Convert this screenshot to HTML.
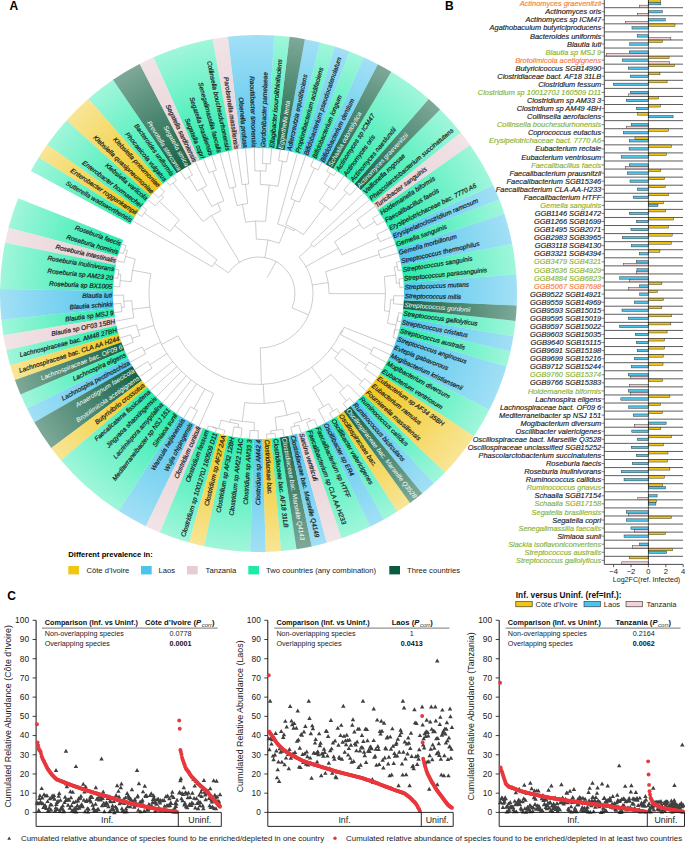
<!DOCTYPE html><html><head><meta charset="utf-8"><style>html,body{margin:0;padding:0;background:#fff;width:685px;height:843px;overflow:hidden}svg{display:block}text{font-family:"Liberation Sans",sans-serif}.it{font-style:italic}.b{font-weight:bold}</style></head><body>
<svg width="685" height="843" viewBox="0 0 685 843">
<rect width="685" height="843" fill="#fff"/>
<defs>
<radialGradient id="gY" gradientUnits="userSpaceOnUse" cx="258.5" cy="293.5" r="258.5">
<stop offset="0.56" stop-color="#f0c514" stop-opacity="0.96"/>
<stop offset="1" stop-color="#f0c514" stop-opacity="0.45"/>
</radialGradient>
<radialGradient id="gB" gradientUnits="userSpaceOnUse" cx="258.5" cy="293.5" r="258.5">
<stop offset="0.56" stop-color="#4cc3ec" stop-opacity="0.96"/>
<stop offset="1" stop-color="#4cc3ec" stop-opacity="0.52"/>
</radialGradient>
<radialGradient id="gP" gradientUnits="userSpaceOnUse" cx="258.5" cy="293.5" r="258.5">
<stop offset="0.56" stop-color="#e6cdd2" stop-opacity="0.96"/>
<stop offset="1" stop-color="#e6cdd2" stop-opacity="0.55"/>
</radialGradient>
<radialGradient id="gG" gradientUnits="userSpaceOnUse" cx="258.5" cy="293.5" r="258.5">
<stop offset="0.56" stop-color="#1eeaa8" stop-opacity="0.96"/>
<stop offset="1" stop-color="#1eeaa8" stop-opacity="0.42"/>
</radialGradient>
<radialGradient id="gD" gradientUnits="userSpaceOnUse" cx="258.5" cy="293.5" r="258.5">
<stop offset="0.56" stop-color="#0b5c3e" stop-opacity="0.96"/>
<stop offset="1" stop-color="#0b5c3e" stop-opacity="0.53"/>
</radialGradient>
</defs>
<path d="M18.15 198.34A258.5 258.5 0 0 0 8.51 227.73L117.79 256.48A145.5 145.5 0 0 1 123.22 239.94Z" fill="url(#gG)"/>
<path d="M8.51 227.73A258.5 258.5 0 0 0 5.02 242.8L115.83 264.97A145.5 145.5 0 0 1 117.79 256.48Z" fill="url(#gP)"/>
<path d="M5.02 242.8A258.5 258.5 0 0 0 0.04 288.9L113.02 290.91A145.5 145.5 0 0 1 115.83 264.97Z" fill="url(#gG)"/>
<path d="M0.04 288.9A258.5 258.5 0 0 0 1.34 319.81L113.76 308.31A145.5 145.5 0 0 1 113.02 290.91Z" fill="url(#gB)"/>
<path d="M1.34 319.81A258.5 258.5 0 0 0 3.38 335.14L114.9 316.94A145.5 145.5 0 0 1 113.76 308.31Z" fill="url(#gG)"/>
<path d="M3.38 335.14A258.5 258.5 0 0 0 6.33 350.33L116.56 325.49A145.5 145.5 0 0 1 114.9 316.94Z" fill="url(#gP)"/>
<path d="M6.33 350.33A258.5 258.5 0 0 0 10.18 365.32L118.73 333.93A145.5 145.5 0 0 1 116.56 325.49Z" fill="url(#gG)"/>
<path d="M10.18 365.32A258.5 258.5 0 0 0 14.92 380.05L121.4 342.22A145.5 145.5 0 0 1 118.73 333.93Z" fill="url(#gY)"/>
<path d="M14.92 380.05A258.5 258.5 0 0 0 20.53 394.47L124.56 350.33A145.5 145.5 0 0 1 121.4 342.22Z" fill="url(#gD)"/>
<path d="M20.53 394.47A258.5 258.5 0 0 0 27 408.52L128.2 358.24A145.5 145.5 0 0 1 124.56 350.33Z" fill="url(#gG)"/>
<path d="M27 408.52A258.5 258.5 0 0 0 34.3 422.17L132.31 365.92A145.5 145.5 0 0 1 128.2 358.24Z" fill="url(#gB)"/>
<path d="M34.3 422.17A258.5 258.5 0 0 0 51.27 448.03L141.86 380.48A145.5 145.5 0 0 1 132.31 365.92Z" fill="url(#gD)"/>
<path d="M51.27 448.03A258.5 258.5 0 0 0 60.89 460.15L147.27 387.3A145.5 145.5 0 0 1 141.86 380.48Z" fill="url(#gY)"/>
<path d="M60.89 460.15A258.5 258.5 0 0 0 118.82 511.01L179.88 415.93A145.5 145.5 0 0 1 147.27 387.3Z" fill="url(#gG)"/>
<path d="M118.82 511.01A258.5 258.5 0 0 0 145.8 526.14L195.07 424.44A145.5 145.5 0 0 1 179.88 415.93Z" fill="url(#gB)"/>
<path d="M145.8 526.14A258.5 258.5 0 0 0 159.92 532.47L203.01 428A145.5 145.5 0 0 1 195.07 424.44Z" fill="url(#gP)"/>
<path d="M159.92 532.47A258.5 258.5 0 0 0 189.17 542.53L219.48 433.67A145.5 145.5 0 0 1 203.01 428Z" fill="url(#gG)"/>
<path d="M189.17 542.53A258.5 258.5 0 0 0 204.19 546.23L227.93 435.75A145.5 145.5 0 0 1 219.48 433.67Z" fill="url(#gY)"/>
<path d="M204.19 546.23A258.5 258.5 0 0 0 250.21 551.87L253.84 438.93A145.5 145.5 0 0 1 227.93 435.75Z" fill="url(#gG)"/>
<path d="M250.21 551.87A258.5 258.5 0 0 0 265.69 551.9L262.55 438.94A145.5 145.5 0 0 1 253.84 438.93Z" fill="url(#gB)"/>
<path d="M265.69 551.9A258.5 258.5 0 0 0 281.13 551.01L271.24 438.44A145.5 145.5 0 0 1 262.55 438.94Z" fill="url(#gY)"/>
<path d="M281.13 551.01A258.5 258.5 0 0 0 296.5 549.19L279.89 437.42A145.5 145.5 0 0 1 271.24 438.44Z" fill="url(#gG)"/>
<path d="M296.5 549.19A258.5 258.5 0 0 0 311.73 546.46L288.46 435.88A145.5 145.5 0 0 1 279.89 437.42Z" fill="url(#gD)"/>
<path d="M311.73 546.46A258.5 258.5 0 0 0 326.77 542.82L296.93 433.83A145.5 145.5 0 0 1 288.46 435.88Z" fill="url(#gB)"/>
<path d="M326.77 542.82A258.5 258.5 0 0 0 341.57 538.29L305.25 431.28A145.5 145.5 0 0 1 296.93 433.83Z" fill="url(#gP)"/>
<path d="M341.57 538.29A258.5 258.5 0 0 0 370.21 526.62L321.38 424.71A145.5 145.5 0 0 1 305.25 431.28Z" fill="url(#gG)"/>
<path d="M370.21 526.62A258.5 258.5 0 0 0 383.96 519.51L329.12 420.72A145.5 145.5 0 0 1 321.38 424.71Z" fill="url(#gB)"/>
<path d="M383.96 519.51A258.5 258.5 0 0 0 397.26 511.6L336.6 416.26A145.5 145.5 0 0 1 329.12 420.72Z" fill="url(#gG)"/>
<path d="M397.26 511.6A258.5 258.5 0 0 0 410.06 502.91L343.81 411.37A145.5 145.5 0 0 1 336.6 416.26Z" fill="url(#gY)"/>
<path d="M410.06 502.91A258.5 258.5 0 0 0 422.31 493.47L350.7 406.05A145.5 145.5 0 0 1 343.81 411.37Z" fill="url(#gD)"/>
<path d="M422.31 493.47A258.5 258.5 0 0 0 433.98 483.31L357.27 400.34A145.5 145.5 0 0 1 350.7 406.05Z" fill="url(#gB)"/>
<path d="M433.98 483.31A258.5 258.5 0 0 0 445.03 472.47L363.49 394.24A145.5 145.5 0 0 1 357.27 400.34Z" fill="url(#gG)"/>
<path d="M445.03 472.47A258.5 258.5 0 0 0 474 436.27L379.79 373.86A145.5 145.5 0 0 1 363.49 394.24Z" fill="url(#gY)"/>
<path d="M474 436.27A258.5 258.5 0 0 0 489.51 409.51L388.53 358.8A145.5 145.5 0 0 1 379.79 373.86Z" fill="url(#gG)"/>
<path d="M489.51 409.51A258.5 258.5 0 0 0 506.51 366.38L398.1 334.52A145.5 145.5 0 0 1 388.53 358.8Z" fill="url(#gB)"/>
<path d="M506.51 366.38A258.5 258.5 0 0 0 510.43 351.41L400.3 326.09A145.5 145.5 0 0 1 398.1 334.52Z" fill="url(#gG)"/>
<path d="M510.43 351.41A258.5 258.5 0 0 0 513.44 336.23L402 317.55A145.5 145.5 0 0 1 400.3 326.09Z" fill="url(#gB)"/>
<path d="M513.44 336.23A258.5 258.5 0 0 0 515.54 320.9L403.18 308.92A145.5 145.5 0 0 1 402 317.55Z" fill="url(#gG)"/>
<path d="M515.54 320.9A258.5 258.5 0 0 0 516.72 305.47L403.84 300.24A145.5 145.5 0 0 1 403.18 308.92Z" fill="url(#gD)"/>
<path d="M516.72 305.47A258.5 258.5 0 0 0 516.3 274.54L403.61 282.83A145.5 145.5 0 0 1 403.84 300.24Z" fill="url(#gB)"/>
<path d="M516.3 274.54A258.5 258.5 0 0 0 512.19 243.88L401.29 265.57A145.5 145.5 0 0 1 403.61 282.83Z" fill="url(#gG)"/>
<path d="M512.19 243.88A258.5 258.5 0 0 0 504.45 213.94L396.94 248.72A145.5 145.5 0 0 1 401.29 265.57Z" fill="url(#gB)"/>
<path d="M504.45 213.94A258.5 258.5 0 0 0 499.25 199.36L394.01 240.51A145.5 145.5 0 0 1 396.94 248.72Z" fill="url(#gG)"/>
<path d="M499.25 199.36A258.5 258.5 0 0 0 493.19 185.13L390.6 232.5A145.5 145.5 0 0 1 394.01 240.51Z" fill="url(#gB)"/>
<path d="M493.19 185.13A258.5 258.5 0 0 0 470.05 144.95L377.57 209.89A145.5 145.5 0 0 1 390.6 232.5Z" fill="url(#gG)"/>
<path d="M470.05 144.95A258.5 258.5 0 0 0 460.79 132.56L372.36 202.91A145.5 145.5 0 0 1 377.57 209.89Z" fill="url(#gP)"/>
<path d="M460.79 132.56A258.5 258.5 0 0 0 440.11 109.55L360.72 189.96A145.5 145.5 0 0 1 372.36 202.91Z" fill="url(#gG)"/>
<path d="M440.11 109.55A258.5 258.5 0 0 0 428.78 99.01L354.34 184.03A145.5 145.5 0 0 1 360.72 189.96Z" fill="url(#gD)"/>
<path d="M428.78 99.01A258.5 258.5 0 0 0 391.3 71.72L333.25 168.67A145.5 145.5 0 0 1 354.34 184.03Z" fill="url(#gG)"/>
<path d="M391.3 71.72A258.5 258.5 0 0 0 377.79 64.17L325.65 164.42A145.5 145.5 0 0 1 333.25 168.67Z" fill="url(#gD)"/>
<path d="M377.79 64.17A258.5 258.5 0 0 0 363.86 57.44L317.8 160.63A145.5 145.5 0 0 1 325.65 164.42Z" fill="url(#gB)"/>
<path d="M363.86 57.44A258.5 258.5 0 0 0 349.55 51.56L309.75 157.32A145.5 145.5 0 0 1 317.8 160.63Z" fill="url(#gG)"/>
<path d="M349.55 51.56A258.5 258.5 0 0 0 334.91 46.55L301.51 154.5A145.5 145.5 0 0 1 309.75 157.32Z" fill="url(#gB)"/>
<path d="M334.91 46.55A258.5 258.5 0 0 0 319.99 42.42L293.11 152.18A145.5 145.5 0 0 1 301.51 154.5Z" fill="url(#gG)"/>
<path d="M319.99 42.42A258.5 258.5 0 0 0 304.86 39.19L284.6 150.36A145.5 145.5 0 0 1 293.11 152.18Z" fill="url(#gB)"/>
<path d="M304.86 39.19A258.5 258.5 0 0 0 289.56 36.87L275.98 149.05A145.5 145.5 0 0 1 284.6 150.36Z" fill="url(#gD)"/>
<path d="M289.56 36.87A258.5 258.5 0 0 0 274.15 35.47L267.31 148.27A145.5 145.5 0 0 1 275.98 149.05Z" fill="url(#gG)"/>
<path d="M274.15 35.47A258.5 258.5 0 0 0 227.81 36.83L241.23 149.03A145.5 145.5 0 0 1 267.31 148.27Z" fill="url(#gB)"/>
<path d="M227.81 36.83A258.5 258.5 0 0 0 212.51 39.12L232.61 150.32A145.5 145.5 0 0 1 241.23 149.03Z" fill="url(#gP)"/>
<path d="M212.51 39.12A258.5 258.5 0 0 0 153.49 57.29L199.39 160.55A145.5 145.5 0 0 1 232.61 150.32Z" fill="url(#gG)"/>
<path d="M153.49 57.29A258.5 258.5 0 0 0 139.54 64L191.54 164.32A145.5 145.5 0 0 1 199.39 160.55Z" fill="url(#gP)"/>
<path d="M139.54 64A258.5 258.5 0 0 0 112.98 79.85L176.59 173.24A145.5 145.5 0 0 1 191.54 164.32Z" fill="url(#gD)"/>
<path d="M112.98 79.85A258.5 258.5 0 0 0 88.5 98.76L162.81 183.89A145.5 145.5 0 0 1 176.59 173.24Z" fill="url(#gG)"/>
<path d="M88.5 98.76A258.5 258.5 0 0 0 66.46 120.46L150.41 196.1A145.5 145.5 0 0 1 162.81 183.89Z" fill="url(#gY)"/>
<path d="M66.46 120.46A258.5 258.5 0 0 0 47.16 144.64L139.55 209.71A145.5 145.5 0 0 1 150.41 196.1Z" fill="url(#gG)"/>
<path d="M47.16 144.64A258.5 258.5 0 0 0 38.64 157.55L134.75 216.98A145.5 145.5 0 0 1 139.55 209.71Z" fill="url(#gY)"/>
<path d="M38.64 157.55A258.5 258.5 0 0 0 30.9 170.95L130.39 224.52A145.5 145.5 0 0 1 134.75 216.98Z" fill="url(#gG)"/>
<g class="it" font-size="6.5" stroke-width="0.2">
<text x="120.92" y="243.74" fill="#1a1a1a" stroke="#1a1a1a" text-anchor="end" transform="rotate(379.88 120.92 243.74)" dy="2.3">Roseburia faecis</text>
<text x="118.19" y="252.06" fill="#1a1a1a" stroke="#1a1a1a" text-anchor="end" transform="rotate(376.45 118.19 252.06)" dy="2.3">Roseburia hominis</text>
<text x="115.96" y="260.53" fill="#1a1a1a" stroke="#1a1a1a" text-anchor="end" transform="rotate(373.02 115.96 260.53)" dy="2.3">Roseburia intestinalis</text>
<text x="114.25" y="269.12" fill="#1a1a1a" stroke="#1a1a1a" text-anchor="end" transform="rotate(369.59 114.25 269.12)" dy="2.3">Roseburia inulinivorans</text>
<text x="113.05" y="277.79" fill="#1a1a1a" stroke="#1a1a1a" text-anchor="end" transform="rotate(366.16 113.05 277.79)" dy="2.3">Roseburia sp AM23 20</text>
<text x="112.37" y="286.52" fill="#1a1a1a" stroke="#1a1a1a" text-anchor="end" transform="rotate(362.73 112.37 286.52)" dy="2.3">Roseburia sp BX1005</text>
<text x="112.21" y="295.28" fill="#1a1a1a" stroke="#1a1a1a" text-anchor="end" transform="rotate(359.3 112.21 295.28)" dy="2.3">Blautia luti</text>
<text x="112.58" y="304.03" fill="#1a1a1a" stroke="#1a1a1a" text-anchor="end" transform="rotate(355.87 112.58 304.03)" dy="2.3">Blautia schinkii</text>
<text x="113.47" y="312.74" fill="#1a1a1a" stroke="#1a1a1a" text-anchor="end" transform="rotate(352.44 113.47 312.74)" dy="2.3">Blautia sp MSJ 9</text>
<text x="114.88" y="321.38" fill="#1a1a1a" stroke="#1a1a1a" text-anchor="end" transform="rotate(349.01 114.88 321.38)" dy="2.3">Blautia sp OF03 15BH</text>
<text x="116.81" y="329.92" fill="#1a1a1a" stroke="#1a1a1a" text-anchor="end" transform="rotate(345.58 116.81 329.92)" dy="2.3">Lachnospiraceae bac. AM48 27BH</text>
<text x="119.24" y="338.34" fill="#1a1a1a" stroke="#1a1a1a" text-anchor="end" transform="rotate(342.15 119.24 338.34)" dy="2.3">Lachnospiraceae bac. CLA AA H244</text>
<text x="122.17" y="346.59" fill="#fff" stroke="none" text-anchor="end" transform="rotate(338.72 122.17 346.59)" dy="2.3">Lachnospiraceae bac. OF09 6</text>
<text x="125.59" y="354.65" fill="#1a1a1a" stroke="#1a1a1a" text-anchor="end" transform="rotate(335.29 125.59 354.65)" dy="2.3">Lachnospira eligens</text>
<text x="129.49" y="362.49" fill="#1a1a1a" stroke="#1a1a1a" text-anchor="end" transform="rotate(331.86 129.49 362.49)" dy="2.3">Lachnospira pectinoschiza</text>
<text x="133.85" y="370.09" fill="#fff" stroke="none" text-anchor="end" transform="rotate(328.43 133.85 370.09)" dy="2.3">Anaerotignum faecicola</text>
<text x="138.65" y="377.41" fill="#fff" stroke="none" text-anchor="end" transform="rotate(325 138.65 377.41)" dy="2.3">Brotolimicola acetigignens</text>
<text x="143.89" y="384.43" fill="#1a1a1a" stroke="#1a1a1a" text-anchor="end" transform="rotate(321.57 143.89 384.43)" dy="2.3">Butyrivibrio crossotus</text>
<text x="149.53" y="391.12" fill="#1a1a1a" stroke="#1a1a1a" text-anchor="end" transform="rotate(318.14 149.53 391.12)" dy="2.3">Faecalicatena fissicatena</text>
<text x="155.57" y="397.47" fill="#1a1a1a" stroke="#1a1a1a" text-anchor="end" transform="rotate(314.71 155.57 397.47)" dy="2.3">Jingyaoa shaoxingensis</text>
<text x="161.97" y="403.44" fill="#1a1a1a" stroke="#1a1a1a" text-anchor="end" transform="rotate(311.28 161.97 403.44)" dy="2.3">Lacrimispora amygdalina</text>
<text x="168.72" y="409.02" fill="#1a1a1a" stroke="#1a1a1a" text-anchor="end" transform="rotate(307.85 168.72 409.02)" dy="2.3">Mediterraneibacter sp NSJ 151</text>
<text x="175.8" y="414.18" fill="#1a1a1a" stroke="#1a1a1a" text-anchor="end" transform="rotate(304.42 175.8 414.18)" dy="2.3">Simiaoa sunii</text>
<text x="183.17" y="418.91" fill="#1a1a1a" stroke="#1a1a1a" text-anchor="end" transform="rotate(300.99 183.17 418.91)" dy="2.3">Wansuia hejianensis</text>
<text x="190.8" y="423.2" fill="#1a1a1a" stroke="#1a1a1a" text-anchor="end" transform="rotate(297.56 190.8 423.2)" dy="2.3">Wujia chipingensis</text>
<text x="198.69" y="427.01" fill="#1a1a1a" stroke="#1a1a1a" text-anchor="end" transform="rotate(294.13 198.69 427.01)" dy="2.3">Clostridium cuniculi</text>
<text x="206.78" y="430.35" fill="#1a1a1a" stroke="#1a1a1a" text-anchor="end" transform="rotate(290.7 206.78 430.35)" dy="2.3">Clostridium fessum</text>
<text x="215.06" y="433.2" fill="#1a1a1a" stroke="#1a1a1a" text-anchor="end" transform="rotate(287.27 215.06 433.2)" dy="2.3">Clostridium sp 1001270J 160509 D11</text>
<text x="223.5" y="435.55" fill="#1a1a1a" stroke="#1a1a1a" text-anchor="end" transform="rotate(283.84 223.5 435.55)" dy="2.3">Clostridium sp AF27 2AA</text>
<text x="232.06" y="437.39" fill="#1a1a1a" stroke="#1a1a1a" text-anchor="end" transform="rotate(280.41 232.06 437.39)" dy="2.3">Clostridium sp AF32 12BH</text>
<text x="240.72" y="438.72" fill="#1a1a1a" stroke="#1a1a1a" text-anchor="end" transform="rotate(276.98 240.72 438.72)" dy="2.3">Clostridium sp AM22 11AC</text>
<text x="249.44" y="439.52" fill="#1a1a1a" stroke="#1a1a1a" text-anchor="end" transform="rotate(273.55 249.44 439.52)" dy="2.3">Clostridium sp AM33 3</text>
<text x="258.19" y="439.8" fill="#1a1a1a" stroke="#1a1a1a" text-anchor="end" transform="rotate(270.12 258.19 439.8)" dy="2.3">Clostridium sp AM42 4</text>
<text x="266.94" y="439.56" fill="#1a1a1a" stroke="#1a1a1a" transform="rotate(86.69 266.94 439.56)" dy="2.3">Clostridiaceae bac.</text>
<text x="275.67" y="438.79" fill="#1a1a1a" stroke="#1a1a1a" transform="rotate(83.26 275.67 438.79)" dy="2.3">Clostridiaceae bac. AF18 31LB</text>
<text x="284.33" y="437.5" fill="#fff" stroke="none" transform="rotate(79.83 284.33 437.5)" dy="2.3">Clostridiaceae bac. Marseille Q4143</text>
<text x="292.9" y="435.7" fill="#1a1a1a" stroke="#1a1a1a" transform="rotate(76.4 292.9 435.7)" dy="2.3">Clostridiaceae bac. Marseille Q4149</text>
<text x="301.34" y="433.39" fill="#1a1a1a" stroke="#1a1a1a" transform="rotate(72.97 301.34 433.39)" dy="2.3">Sarcina ventriculi</text>
<text x="309.64" y="430.57" fill="#1a1a1a" stroke="#1a1a1a" transform="rotate(69.54 309.64 430.57)" dy="2.3">Faecalibacterium sp CLA AA H233</text>
<text x="317.75" y="427.27" fill="#1a1a1a" stroke="#1a1a1a" transform="rotate(66.11 317.75 427.27)" dy="2.3">Faecalibacterium sp HTFF</text>
<text x="325.64" y="423.48" fill="#1a1a1a" stroke="#1a1a1a" transform="rotate(62.68 325.64 423.48)" dy="2.3">Oscillibacter sp ER4</text>
<text x="333.3" y="419.23" fill="#1a1a1a" stroke="#1a1a1a" transform="rotate(59.25 333.3 419.23)" dy="2.3">Oscillibacter valericigenes</text>
<text x="340.69" y="414.53" fill="#1a1a1a" stroke="#1a1a1a" transform="rotate(55.82 340.69 414.53)" dy="2.3">Oscillospiraceae bac.</text>
<text x="347.78" y="409.4" fill="#fff" stroke="none" transform="rotate(52.39 347.78 409.4)" dy="2.3">Oscillospiraceae bac. Marseille Q3528</text>
<text x="354.56" y="403.85" fill="#1a1a1a" stroke="#1a1a1a" transform="rotate(48.96 354.56 403.85)" dy="2.3">Ruminococcus bicirculans</text>
<text x="360.99" y="397.9" fill="#1a1a1a" stroke="#1a1a1a" transform="rotate(45.53 360.99 397.9)" dy="2.3">Ruminococcus callidus</text>
<text x="367.05" y="391.58" fill="#1a1a1a" stroke="#1a1a1a" transform="rotate(42.1 367.05 391.58)" dy="2.3">Fournierella massiliensis</text>
<text x="372.72" y="384.91" fill="#1a1a1a" stroke="#1a1a1a" transform="rotate(38.67 372.72 384.91)" dy="2.3">Eubacterium ramulus</text>
<text x="377.99" y="377.92" fill="#1a1a1a" stroke="#1a1a1a" transform="rotate(35.24 377.99 377.92)" dy="2.3">Eubacterium sp AF34 35BH</text>
<text x="382.83" y="370.62" fill="#1a1a1a" stroke="#1a1a1a" transform="rotate(31.81 382.83 370.62)" dy="2.3">Eubacterium ventriosum</text>
<text x="387.22" y="363.04" fill="#1a1a1a" stroke="#1a1a1a" transform="rotate(28.38 387.22 363.04)" dy="2.3">Mogibacterium diversum</text>
<text x="391.15" y="355.21" fill="#1a1a1a" stroke="#1a1a1a" transform="rotate(24.95 391.15 355.21)" dy="2.3">Mogibacterium kristiansenii</text>
<text x="394.6" y="347.17" fill="#1a1a1a" stroke="#1a1a1a" transform="rotate(21.52 394.6 347.17)" dy="2.3">Evtepia gabavorous</text>
<text x="397.57" y="338.93" fill="#1a1a1a" stroke="#1a1a1a" transform="rotate(18.09 397.57 338.93)" dy="2.3">Streptococcus anginosus</text>
<text x="400.04" y="330.53" fill="#1a1a1a" stroke="#1a1a1a" transform="rotate(14.66 400.04 330.53)" dy="2.3">Streptococcus australis</text>
<text x="402" y="321.99" fill="#1a1a1a" stroke="#1a1a1a" transform="rotate(11.23 402 321.99)" dy="2.3">Streptococcus cristatus</text>
<text x="403.45" y="313.35" fill="#1a1a1a" stroke="#1a1a1a" transform="rotate(7.8 403.45 313.35)" dy="2.3">Streptococcus gallolyticus</text>
<text x="404.37" y="304.65" fill="#fff" stroke="none" transform="rotate(4.37 404.37 304.65)" dy="2.3">Streptococcus gordonii</text>
<text x="404.78" y="295.9" fill="#1a1a1a" stroke="#1a1a1a" transform="rotate(0.94 404.78 295.9)" dy="2.3">Streptococcus mitis</text>
<text x="404.66" y="287.14" fill="#1a1a1a" stroke="#1a1a1a" transform="rotate(-2.49 404.66 287.14)" dy="2.3">Streptococcus mutans</text>
<text x="404.02" y="278.41" fill="#1a1a1a" stroke="#1a1a1a" transform="rotate(-5.92 404.02 278.41)" dy="2.3">Streptococcus parasanguinis</text>
<text x="402.86" y="269.73" fill="#1a1a1a" stroke="#1a1a1a" transform="rotate(-9.35 402.86 269.73)" dy="2.3">Streptococcus sanguinis</text>
<text x="401.18" y="261.13" fill="#1a1a1a" stroke="#1a1a1a" transform="rotate(-12.78 401.18 261.13)" dy="2.3">Streptococcus thermophilus</text>
<text x="398.98" y="252.66" fill="#1a1a1a" stroke="#1a1a1a" transform="rotate(-16.21 398.98 252.66)" dy="2.3">Gemella morbillorum</text>
<text x="396.29" y="244.32" fill="#1a1a1a" stroke="#1a1a1a" transform="rotate(-19.64 396.29 244.32)" dy="2.3">Gemella sanguinis</text>
<text x="393.1" y="236.17" fill="#1a1a1a" stroke="#1a1a1a" transform="rotate(-23.07 393.1 236.17)" dy="2.3">Erysipelatoclostridium ramosum</text>
<text x="389.43" y="228.22" fill="#1a1a1a" stroke="#1a1a1a" transform="rotate(-26.5 389.43 228.22)" dy="2.3">Erysipelotrichaceae bac. 7770 A6</text>
<text x="385.29" y="220.5" fill="#1a1a1a" stroke="#1a1a1a" transform="rotate(-29.93 385.29 220.5)" dy="2.3">Faecalibacillus faecis</text>
<text x="380.69" y="213.05" fill="#1a1a1a" stroke="#1a1a1a" transform="rotate(-33.36 380.69 213.05)" dy="2.3">Holdemanella biformis</text>
<text x="375.66" y="205.88" fill="#1a1a1a" stroke="#1a1a1a" transform="rotate(-36.79 375.66 205.88)" dy="2.3">Turicibacter sanguinis</text>
<text x="370.21" y="199.03" fill="#1a1a1a" stroke="#1a1a1a" transform="rotate(-40.22 370.21 199.03)" dy="2.3">Phascolarctobacterium succinatutens</text>
<text x="364.35" y="192.51" fill="#1a1a1a" stroke="#1a1a1a" transform="rotate(-43.65 364.35 192.51)" dy="2.3">Veillonella rogosae</text>
<text x="358.12" y="186.36" fill="#fff" stroke="none" transform="rotate(-47.08 358.12 186.36)" dy="2.3">Actinomyces graevenitzii</text>
<text x="351.53" y="180.59" fill="#1a1a1a" stroke="#1a1a1a" transform="rotate(-50.51 351.53 180.59)" dy="2.3">Actinomyces naeslundii</text>
<text x="344.61" y="175.23" fill="#1a1a1a" stroke="#1a1a1a" transform="rotate(-53.94 344.61 175.23)" dy="2.3">Actinomyces oris</text>
<text x="337.38" y="170.29" fill="#1a1a1a" stroke="#1a1a1a" transform="rotate(-57.37 337.38 170.29)" dy="2.3">Actinomyces sp ICM47</text>
<text x="329.87" y="165.79" fill="#fff" stroke="none" transform="rotate(-60.8 329.87 165.79)" dy="2.3">Schaalia odontolytica</text>
<text x="322.1" y="161.75" fill="#1a1a1a" stroke="#1a1a1a" transform="rotate(-64.23 322.1 161.75)" dy="2.3">Bifidobacterium dentium</text>
<text x="314.1" y="158.18" fill="#1a1a1a" stroke="#1a1a1a" transform="rotate(-67.66 314.1 158.18)" dy="2.3">Bifidobacterium longum</text>
<text x="305.91" y="155.09" fill="#1a1a1a" stroke="#1a1a1a" transform="rotate(-71.09 305.91 155.09)" dy="2.3">Bifidobacterium pseudocatenulatum</text>
<text x="297.54" y="152.51" fill="#1a1a1a" stroke="#1a1a1a" transform="rotate(-74.52 297.54 152.51)" dy="2.3">Propionibacterium acidifaciens</text>
<text x="289.04" y="150.42" fill="#1a1a1a" stroke="#1a1a1a" transform="rotate(-77.95 289.04 150.42)" dy="2.3">Adlercreutzia equolifaciens</text>
<text x="280.42" y="148.85" fill="#fff" stroke="none" transform="rotate(-81.38 280.42 148.85)" dy="2.3">Eggerthella lenta</text>
<text x="271.73" y="147.8" fill="#1a1a1a" stroke="#1a1a1a" transform="rotate(-84.81 271.73 147.8)" dy="2.3">Ellagibacter isourolithinifaciens</text>
<text x="262.99" y="147.27" fill="#1a1a1a" stroke="#1a1a1a" transform="rotate(-88.24 262.99 147.27)" dy="2.3">Gordonibacter pamelaeae</text>
<text x="254.23" y="147.26" fill="#1a1a1a" stroke="#1a1a1a" text-anchor="end" transform="rotate(88.33 254.23 147.26)" dy="2.3">Raoultibacter timonensis</text>
<text x="245.49" y="147.78" fill="#1a1a1a" stroke="#1a1a1a" text-anchor="end" transform="rotate(84.9 245.49 147.78)" dy="2.3">Olsenella profusa</text>
<text x="236.79" y="148.82" fill="#1a1a1a" stroke="#1a1a1a" text-anchor="end" transform="rotate(81.47 236.79 148.82)" dy="2.3">Parolsenella massiliensis</text>
<text x="228.17" y="150.38" fill="#1a1a1a" stroke="#1a1a1a" text-anchor="end" transform="rotate(78.04 228.17 150.38)" dy="2.3">Collinsella bouchesdurhonensis</text>
<text x="219.66" y="152.45" fill="#1a1a1a" stroke="#1a1a1a" text-anchor="end" transform="rotate(74.61 219.66 152.45)" dy="2.3">Senegalimassilia faecalis</text>
<text x="211.3" y="155.02" fill="#1a1a1a" stroke="#1a1a1a" text-anchor="end" transform="rotate(71.18 211.3 155.02)" dy="2.3">Segatella brasiliensis</text>
<text x="203.09" y="158.1" fill="#1a1a1a" stroke="#1a1a1a" text-anchor="end" transform="rotate(67.75 203.09 158.1)" dy="2.3">Segatella copri</text>
<text x="195.09" y="161.65" fill="#1a1a1a" stroke="#1a1a1a" text-anchor="end" transform="rotate(64.32 195.09 161.65)" dy="2.3">Segatella sardiniensis</text>
<text x="187.32" y="165.68" fill="#fff" stroke="none" text-anchor="end" transform="rotate(60.89 187.32 165.68)" dy="2.3">Segatella sinica</text>
<text x="179.8" y="170.17" fill="#fff" stroke="none" text-anchor="end" transform="rotate(57.46 179.8 170.17)" dy="2.3">Prevotella stercorea</text>
<text x="172.56" y="175.1" fill="#1a1a1a" stroke="#1a1a1a" text-anchor="end" transform="rotate(54.03 172.56 175.1)" dy="2.3">Bacteroides uniformis</text>
<text x="165.63" y="180.46" fill="#1a1a1a" stroke="#1a1a1a" text-anchor="end" transform="rotate(50.6 165.63 180.46)" dy="2.3">Phocaeicola vulgatus</text>
<text x="159.03" y="186.22" fill="#1a1a1a" stroke="#1a1a1a" text-anchor="end" transform="rotate(47.17 159.03 186.22)" dy="2.3">Klebsiella pneumoniae</text>
<text x="152.79" y="192.36" fill="#1a1a1a" stroke="#1a1a1a" text-anchor="end" transform="rotate(43.74 152.79 192.36)" dy="2.3">Klebsiella quasipneumoniae</text>
<text x="146.93" y="198.86" fill="#1a1a1a" stroke="#1a1a1a" text-anchor="end" transform="rotate(40.31 146.93 198.86)" dy="2.3">Klebsiella variicola</text>
<text x="141.47" y="205.71" fill="#1a1a1a" stroke="#1a1a1a" text-anchor="end" transform="rotate(36.88 141.47 205.71)" dy="2.3">Enterobacter hormaechei</text>
<text x="136.43" y="212.87" fill="#1a1a1a" stroke="#1a1a1a" text-anchor="end" transform="rotate(33.45 136.43 212.87)" dy="2.3">Enterobacter roggenkampii</text>
<text x="131.82" y="220.32" fill="#1a1a1a" stroke="#1a1a1a" text-anchor="end" transform="rotate(30.02 131.82 220.32)" dy="2.3">Sutterella wadsworthensis</text>
</g>
<path d="M212.17 266.74L132.51 220.72M164.44 192.05L159.58 186.8M158.54 197.86L153.37 192.91M158.54 197.86A138.34 138.34 0 0 1 164.44 192.05M163.55 197.05L161.45 194.91M155.29 205.95L147.54 199.38M155.29 205.95A135.34 135.34 0 0 1 163.55 197.05M179.36 220.01L159.32 201.41M146.75 209.67L142.11 206.19M141.93 216.5L137.09 213.31M141.93 216.5A139.7 139.7 0 0 1 146.75 209.67M170.21 231.31L144.29 213.05M170.21 231.31A108 108 0 0 1 179.36 220.01M216.93 259.82L174.59 225.51M212.17 266.74A53.5 53.5 0 0 1 216.93 259.82M228.43 272.82L214.42 263.18M216.4 169.99L211.55 155.78M209.08 172.73L203.4 158.84M209.08 172.73A130.49 130.49 0 0 1 216.4 169.99M223.77 200.82L212.72 171.3M206.81 186.03L195.44 162.38M192.46 174.92L187.71 166.38M185.48 179.08L180.23 170.85M185.48 179.08A135.73 135.73 0 0 1 192.46 174.92M197.38 191.1L188.94 176.95M197.38 191.1A119.26 119.26 0 0 1 206.81 186.03M211.64 206.32L202.04 188.46M211.64 206.32A98.98 98.98 0 0 1 223.77 200.82M220.91 210.63L217.62 203.36M176.42 180.42L173.03 175.75M169.8 185.53L166.14 181.07M169.8 185.53A139.73 139.73 0 0 1 176.42 180.42M202.86 221.49L173.07 182.93M202.86 221.49A91 91 0 0 1 220.91 210.63M239.68 262.23L211.57 215.53M248.72 183.94L245.56 148.58M242.18 184.72L236.91 149.61M242.18 184.72A110 110 0 0 1 248.72 183.94M247.76 203.64L245.44 184.28M235.91 186.87L228.34 151.16M229.57 188.41L219.88 153.22M229.57 188.41A109 109 0 0 1 235.91 186.87M237.1 205.57L232.72 187.59M237.1 205.57A90.5 90.5 0 0 1 247.76 203.64M245.6 222.16L242.4 204.44M286.56 162.02L288.87 151.2M278.64 160.58L280.3 149.64M278.64 160.58A134.44 134.44 0 0 1 286.56 162.02M278.05 186.27L282.61 161.24M270.26 163.95L271.65 148.6M262.49 163.48L262.96 148.07M262.49 163.48A130.08 130.08 0 0 1 270.26 163.95M265.93 171.09L266.38 163.66M254.92 170.91L254.25 148.06M254.92 170.91A122.64 122.64 0 0 1 265.93 171.09M260.21 184.51L260.42 170.88M260.21 184.51A109 109 0 0 1 278.05 186.27M265.59 221.35L269.17 185.02M245.6 222.16A72.5 72.5 0 0 1 265.59 221.35M256.3 239.14L255.57 221.06M277.71 224.11L297.33 153.28M349.85 195.26L357.58 186.95M343.81 189.97L351.03 181.21M343.81 189.97A134.15 134.15 0 0 1 349.85 195.26M330.96 210.74L346.87 192.57M333.87 189.97L344.14 175.87M333.98 175.6L336.95 170.96M326.79 171.3L329.48 166.49M326.79 171.3A139.99 139.99 0 0 1 333.98 175.6M324.29 183.63L330.42 173.4M324.29 183.63A128.06 128.06 0 0 1 333.87 189.97M319.19 201.76L329.15 186.7M319.19 201.76A110 110 0 0 1 330.96 210.74M303.39 234.67L325.23 206.05M318.19 169.84L321.75 162.47M310.69 166.49L313.8 158.92M310.69 166.49A137.31 137.31 0 0 1 318.19 169.84M299.26 202.18L314.47 168.11M290.9 198.9L305.65 155.85M290.9 198.9A100 100 0 0 1 299.26 202.18M285.6 224.64L295.12 200.45M285.6 224.64A74 74 0 0 1 303.39 234.67M293.86 230.78L294.84 229.04M277.71 224.11A72 72 0 0 1 293.86 230.78M279.27 243.22L285.99 226.95M256.3 239.14A54.4 54.4 0 0 1 279.27 243.22M264.88 257.56L268.01 239.94M125.99 245.57L121.68 244.01M123.36 253.59L118.96 252.29M123.36 253.59A140.91 140.91 0 0 1 125.99 245.57M127.47 250.49L124.62 249.56M124.14 262.42L116.74 260.71M124.14 262.42A137.91 137.91 0 0 1 127.47 250.49M135.21 259.08L125.67 256.42M118.98 269.92L115.04 269.25M117.82 278.31L113.84 277.88M117.82 278.31A141.5 141.5 0 0 1 118.98 269.92M120.91 274.46L118.34 274.1M119.76 286.87L113.17 286.56M119.76 286.87A138.9 138.9 0 0 1 120.91 274.46M131.05 281.66L120.2 280.65M131.05 281.66A128 128 0 0 1 135.21 259.08M150.82 273.64L132.62 270.28M123.64 295.14L113.01 295.27M120.99 303.42L113.38 303.97M121.83 311.63L114.26 312.63M121.83 311.63A137.87 137.87 0 0 1 120.99 303.42M124.33 307.22L121.35 307.53M124.33 307.22A134.87 134.87 0 0 1 123.64 295.14M131.71 300.74L123.85 301.19M133.83 317.7L115.67 321.23M133.83 317.7A127 127 0 0 1 131.71 300.74M149.85 307.09L132.48 309.26M136.47 324.87L117.58 329.72M130.67 334.66L120 338.09M133.36 342.23L122.92 346.3M133.36 342.23A134.29 134.29 0 0 1 130.67 334.66M139.77 335.69L131.96 338.46M139.77 335.69A126 126 0 0 1 136.47 324.87M153.78 325.49L138 330.31M142.22 347L126.32 354.31M145.63 353.86L130.19 362.11M145.63 353.86A128 128 0 0 1 142.22 347M160.44 342.22L143.87 350.46M147.74 361.55L134.53 369.67M152.01 368.06L139.31 376.95M152.01 368.06A130 130 0 0 1 147.74 361.55M166.96 353.59L149.82 364.84M172.72 361.56L144.51 383.93M176.94 366.57L150.13 390.59M181.46 371.31L156.13 396.9M186.25 375.78L162.5 402.84M191.31 379.96L169.22 408.39M196.6 383.83L176.25 413.52M190.53 406.65L183.58 418.23M197.42 410.52L191.17 422.49M197.42 410.52A132 132 0 0 1 190.53 406.65M204.95 389.01L193.95 408.64M213.73 393.43L199.01 426.28M213.73 393.43A109.5 109.5 0 0 1 150.82 273.64M177.93 335.81L161.56 344.41M208.48 425.86L207.06 429.6M216.49 428.62L215.3 432.44M216.49 428.62A141.5 141.5 0 0 1 208.48 425.86M212.65 426.75L212.46 427.3M224.78 430.33L223.69 434.77M224.78 430.33A140.92 140.92 0 0 1 212.65 426.75M221.2 420.12L218.68 428.68M234.01 426.78L232.2 436.6M242.03 428.01L240.81 437.92M242.03 428.01A135.51 135.51 0 0 1 234.01 426.78M238.54 423.98L238.01 427.46M238.54 423.98A132 132 0 0 1 221.2 420.12M230.46 419.41L229.8 422.34M250 430.44L249.49 438.72M258.21 430.7L258.19 439M258.21 430.7A137.2 137.2 0 0 1 250 430.44M254.36 422.43L254.1 430.63M254.36 422.43A129 129 0 0 1 230.46 419.41M244.72 402.63L242.34 421.48M266.63 434.17L266.9 438.76M275.03 433.43L275.57 437.99M275.03 433.43A140.91 140.91 0 0 1 266.63 434.17M270.58 430.88L270.84 433.87M282.85 429.24L284.19 436.71M282.85 429.24A137.91 137.91 0 0 1 270.58 430.88M275.02 417.4L276.73 430.2M290.86 427.28L292.71 434.92M298.81 425.1L301.11 432.62M298.81 425.1A137.64 137.64 0 0 1 290.86 427.28M294.06 423.36L294.85 426.25M306.61 422.46L309.36 429.82M314.24 419.35L317.42 426.54M314.24 419.35A137.64 137.64 0 0 1 306.61 422.46M309.31 418.18L310.45 420.96M309.31 418.18A134.64 134.64 0 0 1 294.06 423.36M298.67 411.87L301.76 421M298.67 411.87A125 125 0 0 1 275.02 417.4M283.56 400.61L286.98 415.21M283.56 400.61A110 110 0 0 1 244.72 402.63M263.24 384.38L264.23 403.35M318.39 409.45L325.28 422.77M329.67 413.13L332.89 418.54M336.7 408.66L340.24 413.87M336.7 408.66A139.2 139.2 0 0 1 329.67 413.13M328.55 403.61L333.22 410.95M328.55 403.61A130.5 130.5 0 0 1 318.39 409.45M312.62 387.65L323.54 406.64M343.22 403.48L347.29 408.76M349.65 398.21L354.03 403.24M349.65 398.21A138.83 138.83 0 0 1 343.22 403.48M339.42 392.27L346.48 400.89M347.95 384.62L360.43 397.33M347.95 384.62A127.69 127.69 0 0 1 339.42 392.27M331.02 374.34L343.77 388.54M331.02 374.34A108.6 108.6 0 0 1 312.62 387.65M311.85 367.22L322.17 381.48M359.31 384.59L366.46 391.05M364.57 378.39L372.1 384.41M364.57 378.39A135.86 135.86 0 0 1 359.31 384.59M334.67 358.29L361.99 381.53M364.61 368.46L377.34 377.45M368.9 361.98L382.15 370.19M368.9 361.98A129.92 129.92 0 0 1 364.61 368.46M341.86 348.73L366.81 365.25M341.86 348.73A100 100 0 0 1 334.67 358.29M331.22 348.21L338.41 353.62M370.24 353.87L386.51 362.66M373.65 347.07L390.42 354.88M373.65 347.07A127 127 0 0 1 370.24 353.87M340.72 334.79L371.99 350.49M344.09 327.25L393.86 346.87M344.09 327.25A92 92 0 0 1 340.72 334.79M341.57 330.65L342.49 331.06M341.57 330.65A91 91 0 0 1 177.93 335.81M260.22 347.97L261.37 384.45M380.02 241.74L392.36 236.48M376.71 234.56L388.71 228.57M376.71 234.56A132.09 132.09 0 0 1 380.02 241.74M342.02 254.93L378.42 238.12M377.02 225.26L384.59 220.9M372.72 218.29L380.02 213.49M372.72 218.29A136.76 136.76 0 0 1 377.02 225.26M363.2 228.97L374.92 221.75M356.99 219.84L375.02 206.36M356.99 219.84A122.99 122.99 0 0 1 363.2 228.97M334.57 241.76L360.2 224.34M334.57 241.76A92 92 0 0 1 342.02 254.93M305.93 266.66L338.57 248.19M313.48 247.01L369.6 199.54M310.6 243.8L363.78 193.06M310.6 243.8A72 72 0 0 1 313.48 247.01M299.04 257.08L312.06 245.38M380.45 258.04L398.21 252.88M378.11 250.81L395.53 244.59M378.11 250.81A127 127 0 0 1 380.45 258.04M325.67 271.77L379.33 254.41M393.01 337.44L396.81 338.68M395.39 329.31L399.26 330.32M395.39 329.31A141.5 141.5 0 0 1 393.01 337.44M393.9 333.29L394.26 333.39M397.29 321.06L401.21 321.83M398.69 312.7L402.65 313.25M398.69 312.7A141.5 141.5 0 0 1 397.29 321.06M397.69 316.83L398.05 316.89M397.69 316.83A141.13 141.13 0 0 1 393.9 333.29M387.44 323.14L396.04 325.11M393.41 303.81L403.58 304.59M393.78 295.72L403.98 295.89M393.78 295.72A135.3 135.3 0 0 1 393.41 303.81M390.66 299.63L393.65 299.77M390.66 299.63A132.3 132.3 0 0 1 387.44 323.14M384.33 310.73L389.57 311.45M399.76 287.36L403.86 287.18M399.14 278.91L403.22 278.49M399.14 278.91A141.39 141.39 0 0 1 399.76 287.36M396.52 283.35L399.51 283.13M398.01 270.53L402.07 269.86M396.39 262.22L400.39 261.31M396.39 262.22A141.39 141.39 0 0 1 398.01 270.53M394.32 266.94L397.26 266.36M394.32 266.94A138.39 138.39 0 0 1 396.52 283.35M384.37 276.62L395.66 275.11M384.37 276.62A127 127 0 0 1 384.33 310.73M329.1 293.6L385.5 293.68M325.67 271.77A70.6 70.6 0 0 1 329.1 293.6M312.34 285.05L328.25 282.55M299.04 257.08A54.5 54.5 0 0 1 260.22 347.97M292.07 307.84L308.62 314.91M228.43 272.82A36.5 36.5 0 0 1 292.07 307.84M267.18 277.73L276.1 261.52M267.18 277.73A18 18 0 0 1 267.18 277.73" fill="none" stroke="#a3a3a3" stroke-width="0.55"/>
<text class="b" x="9.6" y="10.2" font-size="12">A</text>
<text class="b" x="68.3" y="557.3" font-size="7.6">Different prevalence in:</text>
<rect x="68.3" y="566" width="10.7" height="8.4" fill="#f0c514"/>
<text x="86.4" y="573.3" font-size="7.65" fill="#1a1a1a">Côte d’Ivoire</text>
<rect x="141.0" y="566" width="10.7" height="8.4" fill="#4cc3ec"/>
<text x="158.5" y="573.3" font-size="7.65" fill="#1a1a1a">Laos</text>
<rect x="187.0" y="566" width="10.7" height="8.4" fill="#e6cdd2"/>
<text x="205.6" y="573.3" font-size="7.65" fill="#1a1a1a">Tanzania</text>
<rect x="248.3" y="566" width="10.7" height="8.4" fill="#1eeaa8"/>
<text x="266.0" y="573.3" font-size="7.65" fill="#1a1a1a">Two countries (any combination)</text>
<rect x="389.3" y="566" width="10.7" height="8.4" fill="#0b5c3e"/>
<text x="407.0" y="573.3" font-size="7.65" fill="#1a1a1a">Three countries</text>
<text class="b" x="444.9" y="10.2" font-size="12">B</text>
<g class="it" font-size="7.42" text-anchor="end" stroke-width="0.15"><text x="601.2" y="6.26" fill="#f47c3c" stroke="#f47c3c">Actinomyces graevenitzii</text><text x="601.2" y="14.33" fill="#1a1a1a" stroke="#1a1a1a">Actinomyces oris</text><text x="601.2" y="22.4" fill="#1a1a1a" stroke="#1a1a1a">Actinomyces sp ICM47</text><text x="601.2" y="30.47" fill="#1a1a1a" stroke="#1a1a1a">Agathobaculum butyriciproducens</text><text x="601.2" y="38.54" fill="#1a1a1a" stroke="#1a1a1a">Bacteroides uniformis</text><text x="601.2" y="46.6" fill="#1a1a1a" stroke="#1a1a1a">Blautia luti</text><text x="601.2" y="54.67" fill="#8ab232" stroke="#8ab232">Blautia sp MSJ 9</text><text x="601.2" y="62.74" fill="#f47c3c" stroke="#f47c3c">Brotolimicola acetigignens</text><text x="601.2" y="70.81" fill="#1a1a1a" stroke="#1a1a1a">Butyricicoccus SGB14990</text><text x="601.2" y="78.88" fill="#1a1a1a" stroke="#1a1a1a">Clostridiaceae bact. AF18 31LB</text><text x="601.2" y="86.94" fill="#1a1a1a" stroke="#1a1a1a">Clostridium fessum</text><text x="601.2" y="95.01" fill="#8ab232" stroke="#8ab232">Clostridium sp 1001270J 160509 D11</text><text x="601.2" y="103.08" fill="#1a1a1a" stroke="#1a1a1a">Clostridium sp AM33 3</text><text x="601.2" y="111.15" fill="#1a1a1a" stroke="#1a1a1a">Clostridium sp AM49 4BH</text><text x="601.2" y="119.22" fill="#1a1a1a" stroke="#1a1a1a">Collinsella aerofaciens</text><text x="601.2" y="127.28" fill="#8ab232" stroke="#8ab232">Collinsella bouchesdurhonensis</text><text x="601.2" y="135.35" fill="#1a1a1a" stroke="#1a1a1a">Coprococcus eutactus</text><text x="601.2" y="143.42" fill="#8ab232" stroke="#8ab232">Erysipelotrichaceae bact. 7770 A6</text><text x="601.2" y="151.49" fill="#1a1a1a" stroke="#1a1a1a">Eubacterium rectale</text><text x="601.2" y="159.56" fill="#1a1a1a" stroke="#1a1a1a">Eubacterium ventriosum</text><text x="601.2" y="167.62" fill="#8ab232" stroke="#8ab232">Faecalibacillus faecis</text><text x="601.2" y="175.69" fill="#1a1a1a" stroke="#1a1a1a">Faecalibacterium prausnitzii</text><text x="601.2" y="183.76" fill="#1a1a1a" stroke="#1a1a1a">Faecalibacterium SGB15346</text><text x="601.2" y="191.83" fill="#1a1a1a" stroke="#1a1a1a">Faecalibacterium CLA-AA-H233</text><text x="601.2" y="199.9" fill="#1a1a1a" stroke="#1a1a1a">Faecalibacterium HTFF</text><text x="601.2" y="207.96" fill="#8ab232" stroke="#8ab232">Gemella sanguinis</text><text x="601.2" y="216.03" fill="#1a1a1a" stroke="#1a1a1a">GGB1146 SGB1472</text><text x="601.2" y="224.1" fill="#1a1a1a" stroke="#1a1a1a">GGB1266 SGB1699</text><text x="601.2" y="232.17" fill="#1a1a1a" stroke="#1a1a1a">GGB1495 SGB2071</text><text x="601.2" y="240.24" fill="#1a1a1a" stroke="#1a1a1a">GGB2983 SGB3965</text><text x="601.2" y="248.3" fill="#1a1a1a" stroke="#1a1a1a">GGB3118 SGB4130</text><text x="601.2" y="256.37" fill="#1a1a1a" stroke="#1a1a1a">GGB3321 SGB4394</text><text x="601.2" y="264.44" fill="#8ab232" stroke="#8ab232">GGB3479 SGB4321</text><text x="601.2" y="272.51" fill="#8ab232" stroke="#8ab232">GGB3636 SGB4929</text><text x="601.2" y="280.58" fill="#8ab232" stroke="#8ab232">GGB4884 SGB6823</text><text x="601.2" y="288.64" fill="#f47c3c" stroke="#f47c3c">GGB5067 SGB7698</text><text x="601.2" y="296.71" fill="#1a1a1a" stroke="#1a1a1a">GGB9522 SGB14921</text><text x="601.2" y="304.78" fill="#1a1a1a" stroke="#1a1a1a">GGB9559 SGB14969</text><text x="601.2" y="312.85" fill="#1a1a1a" stroke="#1a1a1a">GGB9593 SGB15015</text><text x="601.2" y="320.92" fill="#1a1a1a" stroke="#1a1a1a">GGB9595 SGB15019</text><text x="601.2" y="328.98" fill="#1a1a1a" stroke="#1a1a1a">GGB9597 SGB15022</text><text x="601.2" y="337.05" fill="#1a1a1a" stroke="#1a1a1a">GGB9603 SGB15035</text><text x="601.2" y="345.12" fill="#1a1a1a" stroke="#1a1a1a">GGB9640 SGB15115</text><text x="601.2" y="353.19" fill="#1a1a1a" stroke="#1a1a1a">GGB9691 SGB15198</text><text x="601.2" y="361.26" fill="#1a1a1a" stroke="#1a1a1a">GGB9699 SGB15216</text><text x="601.2" y="369.32" fill="#1a1a1a" stroke="#1a1a1a">GGB9712 SGB15244</text><text x="601.2" y="377.39" fill="#8ab232" stroke="#8ab232">GGB9760 SGB15374</text><text x="601.2" y="385.46" fill="#1a1a1a" stroke="#1a1a1a">GGB9766 SGB15383</text><text x="601.2" y="393.53" fill="#8ab232" stroke="#8ab232">Holdemanella biformis</text><text x="601.2" y="401.6" fill="#1a1a1a" stroke="#1a1a1a">Lachnospira eligens</text><text x="601.2" y="409.66" fill="#1a1a1a" stroke="#1a1a1a">Lachnospiraceae bact. OF09 6</text><text x="601.2" y="417.73" fill="#1a1a1a" stroke="#1a1a1a">Mediterraneibacter sp NSJ 151</text><text x="601.2" y="425.8" fill="#1a1a1a" stroke="#1a1a1a">Mogibacterium diversum</text><text x="601.2" y="433.87" fill="#1a1a1a" stroke="#1a1a1a">Oscillibacter valericigenes</text><text x="601.2" y="441.94" fill="#1a1a1a" stroke="#1a1a1a">Oscillospiraceae bact. Marseille Q3528</text><text x="601.2" y="450" fill="#1a1a1a" stroke="#1a1a1a">Oscillospiraceae unclassified SGB15252</text><text x="601.2" y="458.07" fill="#1a1a1a" stroke="#1a1a1a">Phascolarctobacterium succinatutens</text><text x="601.2" y="466.14" fill="#1a1a1a" stroke="#1a1a1a">Roseburia faecis</text><text x="601.2" y="474.21" fill="#1a1a1a" stroke="#1a1a1a">Roseburia inulinivorans</text><text x="601.2" y="482.28" fill="#1a1a1a" stroke="#1a1a1a">Ruminococcus callidus</text><text x="601.2" y="490.34" fill="#8ab232" stroke="#8ab232">Ruminococcus gnavus</text><text x="601.2" y="498.41" fill="#1a1a1a" stroke="#1a1a1a">Schaalia SGB17154</text><text x="601.2" y="506.48" fill="#8ab232" stroke="#8ab232">Schaalia SGB17158</text><text x="601.2" y="514.55" fill="#8ab232" stroke="#8ab232">Segatella brasiliensis</text><text x="601.2" y="522.62" fill="#1a1a1a" stroke="#1a1a1a">Segatella copri</text><text x="601.2" y="530.68" fill="#8ab232" stroke="#8ab232">Senegalimassilia faecalis</text><text x="601.2" y="538.75" fill="#1a1a1a" stroke="#1a1a1a">Simiaoa sunii</text><text x="601.2" y="546.82" fill="#8ab232" stroke="#8ab232">Slackia isoflavoniconvertens</text><text x="601.2" y="554.89" fill="#8ab232" stroke="#8ab232">Streptococcus australis</text><text x="601.2" y="562.96" fill="#8ab232" stroke="#8ab232">Streptococcus gallolyticus</text></g>
<path d="M604.3 7.7H683.0M604.3 15.77H683.0M604.3 23.83H683.0M604.3 31.9H683.0M604.3 39.97H683.0M604.3 48.04H683.0M604.3 56.11H683.0M604.3 64.17H683.0M604.3 72.24H683.0M604.3 80.31H683.0M604.3 88.38H683.0M604.3 96.45H683.0M604.3 104.51H683.0M604.3 112.58H683.0M604.3 120.65H683.0M604.3 128.72H683.0M604.3 136.79H683.0M604.3 144.85H683.0M604.3 152.92H683.0M604.3 160.99H683.0M604.3 169.06H683.0M604.3 177.13H683.0M604.3 185.19H683.0M604.3 193.26H683.0M604.3 201.33H683.0M604.3 209.4H683.0M604.3 217.47H683.0M604.3 225.53H683.0M604.3 233.6H683.0M604.3 241.67H683.0M604.3 249.74H683.0M604.3 257.81H683.0M604.3 265.87H683.0M604.3 273.94H683.0M604.3 282.01H683.0M604.3 290.08H683.0M604.3 298.15H683.0M604.3 306.21H683.0M604.3 314.28H683.0M604.3 322.35H683.0M604.3 330.42H683.0M604.3 338.49H683.0M604.3 346.55H683.0M604.3 354.62H683.0M604.3 362.69H683.0M604.3 370.76H683.0M604.3 378.83H683.0M604.3 386.89H683.0M604.3 394.96H683.0M604.3 403.03H683.0M604.3 411.1H683.0M604.3 419.17H683.0M604.3 427.23H683.0M604.3 435.3H683.0M604.3 443.37H683.0M604.3 451.44H683.0M604.3 459.51H683.0M604.3 467.57H683.0M604.3 475.64H683.0M604.3 483.71H683.0M604.3 491.78H683.0M604.3 499.85H683.0M604.3 507.91H683.0M604.3 515.98H683.0M604.3 524.05H683.0M604.3 532.12H683.0M604.3 540.19H683.0M604.3 548.25H683.0M604.3 556.32H683.0" stroke="#5e5e5e" stroke-width="1" fill="none"/>
<g stroke="#2a2a2a" stroke-width="0.45"><rect x="648.4" y="-0.22" width="12.09" height="2.39" fill="#f0c514"/><rect x="648.4" y="2.47" width="12.44" height="2.39" fill="#4cc3ec"/><rect x="639.44" y="5.16" width="8.96" height="2.39" fill="#efd3d9"/><rect x="648.4" y="10.54" width="13.92" height="2.39" fill="#4cc3ec"/><rect x="637.18" y="13.23" width="11.22" height="2.39" fill="#efd3d9"/><rect x="648.4" y="18.61" width="16.88" height="2.39" fill="#4cc3ec"/><rect x="625.52" y="21.29" width="22.88" height="2.39" fill="#efd3d9"/><rect x="648.4" y="23.98" width="26.62" height="2.39" fill="#f0c514"/><rect x="631.96" y="26.67" width="16.44" height="2.39" fill="#4cc3ec"/><rect x="637.18" y="34.74" width="11.22" height="2.39" fill="#4cc3ec"/><rect x="648.4" y="37.43" width="22.45" height="2.39" fill="#efd3d9"/><rect x="648.4" y="40.12" width="14.35" height="2.39" fill="#f0c514"/><rect x="629.69" y="42.81" width="18.7" height="2.39" fill="#4cc3ec"/><rect x="629.26" y="50.88" width="19.14" height="2.39" fill="#4cc3ec"/><rect x="606.2" y="53.57" width="42.19" height="2.39" fill="#efd3d9"/><rect x="648.4" y="56.26" width="20.71" height="2.39" fill="#f0c514"/><rect x="622.21" y="58.95" width="26.19" height="2.39" fill="#4cc3ec"/><rect x="648.4" y="61.63" width="21.23" height="2.39" fill="#efd3d9"/><rect x="648.4" y="64.32" width="26.19" height="2.39" fill="#f0c514"/><rect x="628.22" y="67.01" width="20.18" height="2.39" fill="#4cc3ec"/><rect x="648.4" y="72.39" width="11.57" height="2.39" fill="#f0c514"/><rect x="630.3" y="75.08" width="18.1" height="2.39" fill="#4cc3ec"/><rect x="648.4" y="80.46" width="18.7" height="2.39" fill="#f0c514"/><rect x="613.43" y="83.15" width="34.97" height="2.39" fill="#4cc3ec"/><rect x="630.3" y="91.22" width="18.1" height="2.39" fill="#4cc3ec"/><rect x="628.65" y="93.91" width="19.75" height="2.39" fill="#efd3d9"/><rect x="648.4" y="96.6" width="10" height="2.39" fill="#f0c514"/><rect x="626.22" y="99.29" width="22.18" height="2.39" fill="#4cc3ec"/><rect x="648.4" y="104.66" width="11.83" height="2.39" fill="#f0c514"/><rect x="636.31" y="107.35" width="12.09" height="2.39" fill="#4cc3ec"/><rect x="637.52" y="112.73" width="10.88" height="2.39" fill="#f0c514"/><rect x="648.4" y="115.42" width="24.71" height="2.39" fill="#4cc3ec"/><rect x="631.17" y="123.49" width="17.23" height="2.39" fill="#4cc3ec"/><rect x="626.22" y="126.18" width="22.18" height="2.39" fill="#efd3d9"/><rect x="648.4" y="128.87" width="20.18" height="2.39" fill="#f0c514"/><rect x="623.43" y="131.56" width="24.97" height="2.39" fill="#4cc3ec"/><rect x="635" y="136.94" width="13.4" height="2.39" fill="#f0c514"/><rect x="629.26" y="139.63" width="19.14" height="2.39" fill="#4cc3ec"/><rect x="648.4" y="145" width="23.32" height="2.39" fill="#f0c514"/><rect x="629.09" y="147.69" width="19.31" height="2.39" fill="#4cc3ec"/><rect x="648.4" y="153.07" width="18.1" height="2.39" fill="#f0c514"/><rect x="621.17" y="155.76" width="27.23" height="2.39" fill="#4cc3ec"/><rect x="629.26" y="163.83" width="19.14" height="2.39" fill="#4cc3ec"/><rect x="625.35" y="166.52" width="23.05" height="2.39" fill="#efd3d9"/><rect x="648.4" y="169.21" width="12.44" height="2.39" fill="#f0c514"/><rect x="627.43" y="171.9" width="20.97" height="2.39" fill="#4cc3ec"/><rect x="648.4" y="177.28" width="16.36" height="2.39" fill="#f0c514"/><rect x="629.96" y="179.97" width="18.44" height="2.39" fill="#4cc3ec"/><rect x="648.4" y="185.34" width="16.88" height="2.39" fill="#f0c514"/><rect x="637.44" y="188.03" width="10.96" height="2.39" fill="#4cc3ec"/><rect x="648.4" y="193.41" width="20.01" height="2.39" fill="#f0c514"/><rect x="633.17" y="196.1" width="15.22" height="2.39" fill="#4cc3ec"/><rect x="648.4" y="201.48" width="14.96" height="2.39" fill="#f0c514"/><rect x="648.4" y="204.17" width="9.57" height="2.39" fill="#4cc3ec"/><rect x="648.4" y="209.55" width="17.14" height="2.39" fill="#f0c514"/><rect x="629.26" y="212.24" width="19.14" height="2.39" fill="#4cc3ec"/><rect x="648.4" y="217.62" width="25.32" height="2.39" fill="#f0c514"/><rect x="636.31" y="220.31" width="12.09" height="2.39" fill="#4cc3ec"/><rect x="648.4" y="225.68" width="20.01" height="2.39" fill="#f0c514"/><rect x="630.91" y="228.37" width="17.49" height="2.39" fill="#4cc3ec"/><rect x="648.4" y="233.75" width="23.75" height="2.39" fill="#f0c514"/><rect x="622.56" y="236.44" width="25.84" height="2.39" fill="#4cc3ec"/><rect x="648.4" y="241.82" width="22.88" height="2.39" fill="#f0c514"/><rect x="631.52" y="244.51" width="16.88" height="2.39" fill="#4cc3ec"/><rect x="648.4" y="249.89" width="11.48" height="2.39" fill="#f0c514"/><rect x="639.44" y="252.58" width="8.96" height="2.39" fill="#4cc3ec"/><rect x="636.31" y="260.65" width="12.09" height="2.39" fill="#4cc3ec"/><rect x="623.43" y="263.33" width="24.97" height="2.39" fill="#efd3d9"/><rect x="636.92" y="268.71" width="11.48" height="2.39" fill="#4cc3ec"/><rect x="636.31" y="271.4" width="12.09" height="2.39" fill="#efd3d9"/><rect x="619.69" y="276.78" width="28.71" height="2.39" fill="#4cc3ec"/><rect x="629.43" y="279.47" width="18.97" height="2.39" fill="#efd3d9"/><rect x="648.4" y="282.16" width="13.48" height="2.39" fill="#f0c514"/><rect x="639.44" y="284.85" width="8.96" height="2.39" fill="#4cc3ec"/><rect x="628.65" y="287.54" width="19.75" height="2.39" fill="#efd3d9"/><rect x="648.4" y="290.23" width="9.13" height="2.39" fill="#f0c514"/><rect x="639.7" y="292.92" width="8.7" height="2.39" fill="#4cc3ec"/><rect x="648.4" y="298.3" width="15.31" height="2.39" fill="#f0c514"/><rect x="634.39" y="300.99" width="14.01" height="2.39" fill="#4cc3ec"/><rect x="648.4" y="306.36" width="13.4" height="2.39" fill="#f0c514"/><rect x="621.95" y="309.05" width="26.45" height="2.39" fill="#4cc3ec"/><rect x="648.4" y="314.43" width="23.32" height="2.39" fill="#f0c514"/><rect x="628.39" y="317.12" width="20.01" height="2.39" fill="#4cc3ec"/><rect x="648.4" y="322.5" width="22.45" height="2.39" fill="#f0c514"/><rect x="619.69" y="325.19" width="28.71" height="2.39" fill="#4cc3ec"/><rect x="648.4" y="330.57" width="18.7" height="2.39" fill="#f0c514"/><rect x="635.26" y="333.26" width="13.14" height="2.39" fill="#4cc3ec"/><rect x="648.4" y="338.64" width="16.01" height="2.39" fill="#f0c514"/><rect x="636.31" y="341.33" width="12.09" height="2.39" fill="#4cc3ec"/><rect x="648.4" y="346.7" width="16.01" height="2.39" fill="#f0c514"/><rect x="637.18" y="349.39" width="11.22" height="2.39" fill="#4cc3ec"/><rect x="648.4" y="354.77" width="14.79" height="2.39" fill="#f0c514"/><rect x="634.65" y="357.46" width="13.75" height="2.39" fill="#4cc3ec"/><rect x="648.4" y="362.84" width="14.62" height="2.39" fill="#f0c514"/><rect x="631.52" y="365.53" width="16.88" height="2.39" fill="#4cc3ec"/><rect x="628.39" y="373.6" width="20.01" height="2.39" fill="#4cc3ec"/><rect x="630.56" y="376.29" width="17.83" height="2.39" fill="#efd3d9"/><rect x="648.4" y="378.98" width="14.35" height="2.39" fill="#f0c514"/><rect x="629.52" y="384.35" width="18.88" height="2.39" fill="#efd3d9"/><rect x="628.39" y="389.73" width="20.01" height="2.39" fill="#4cc3ec"/><rect x="630.56" y="392.42" width="17.83" height="2.39" fill="#efd3d9"/><rect x="648.4" y="395.11" width="21.49" height="2.39" fill="#f0c514"/><rect x="620.82" y="397.8" width="27.58" height="2.39" fill="#4cc3ec"/><rect x="648.4" y="403.18" width="12.27" height="2.39" fill="#f0c514"/><rect x="628.65" y="405.87" width="19.75" height="2.39" fill="#4cc3ec"/><rect x="648.4" y="411.25" width="14.35" height="2.39" fill="#f0c514"/><rect x="633.17" y="413.94" width="15.22" height="2.39" fill="#4cc3ec"/><rect x="648.4" y="422.01" width="17.75" height="2.39" fill="#4cc3ec"/><rect x="634.39" y="424.69" width="14.01" height="2.39" fill="#efd3d9"/><rect x="648.4" y="427.38" width="12.44" height="2.39" fill="#f0c514"/><rect x="631.78" y="430.07" width="16.62" height="2.39" fill="#4cc3ec"/><rect x="648.4" y="435.45" width="23.05" height="2.39" fill="#f0c514"/><rect x="637.44" y="438.14" width="10.96" height="2.39" fill="#4cc3ec"/><rect x="648.4" y="443.52" width="14.96" height="2.39" fill="#f0c514"/><rect x="631.26" y="446.21" width="17.14" height="2.39" fill="#4cc3ec"/><rect x="648.4" y="451.59" width="19.57" height="2.39" fill="#f0c514"/><rect x="636.31" y="454.28" width="12.09" height="2.39" fill="#4cc3ec"/><rect x="648.4" y="459.66" width="18.97" height="2.39" fill="#f0c514"/><rect x="632.39" y="462.35" width="16.01" height="2.39" fill="#4cc3ec"/><rect x="648.4" y="467.72" width="21.49" height="2.39" fill="#f0c514"/><rect x="621.43" y="470.41" width="26.97" height="2.39" fill="#4cc3ec"/><rect x="648.4" y="475.79" width="15.83" height="2.39" fill="#f0c514"/><rect x="624.04" y="478.48" width="24.36" height="2.39" fill="#4cc3ec"/><rect x="648.4" y="483.86" width="14.35" height="2.39" fill="#f0c514"/><rect x="648.4" y="486.55" width="17.23" height="2.39" fill="#4cc3ec"/><rect x="648.4" y="494.62" width="8.7" height="2.39" fill="#4cc3ec"/><rect x="637.79" y="497.31" width="10.61" height="2.39" fill="#efd3d9"/><rect x="648.4" y="500" width="8.09" height="2.39" fill="#f0c514"/><rect x="648.4" y="502.69" width="7.48" height="2.39" fill="#4cc3ec"/><rect x="626.22" y="510.75" width="22.18" height="2.39" fill="#4cc3ec"/><rect x="628.39" y="513.44" width="20.01" height="2.39" fill="#efd3d9"/><rect x="648.4" y="516.13" width="23.32" height="2.39" fill="#f0c514"/><rect x="626.3" y="518.82" width="22.1" height="2.39" fill="#4cc3ec"/><rect x="630.91" y="526.89" width="17.49" height="2.39" fill="#4cc3ec"/><rect x="634.39" y="529.58" width="14.01" height="2.39" fill="#efd3d9"/><rect x="648.4" y="532.27" width="17.23" height="2.39" fill="#f0c514"/><rect x="624.04" y="534.96" width="24.36" height="2.39" fill="#4cc3ec"/><rect x="639.44" y="543.03" width="8.96" height="2.39" fill="#4cc3ec"/><rect x="632.65" y="545.71" width="15.75" height="2.39" fill="#efd3d9"/><rect x="648.4" y="548.4" width="24.36" height="2.39" fill="#f0c514"/><rect x="648.4" y="551.09" width="18.36" height="2.39" fill="#4cc3ec"/><rect x="629.69" y="556.47" width="18.7" height="2.39" fill="#f0c514"/><rect x="621.78" y="561.85" width="26.62" height="2.39" fill="#efd3d9"/></g>
<path d="M648.4 0V564.39" stroke="#111" stroke-width="0.7"/>
<path d="M601.6 3.66H604.3M601.6 11.73H604.3M601.6 19.8H604.3M601.6 27.87H604.3M601.6 35.94H604.3M601.6 44H604.3M601.6 52.07H604.3M601.6 60.14H604.3M601.6 68.21H604.3M601.6 76.28H604.3M601.6 84.34H604.3M601.6 92.41H604.3M601.6 100.48H604.3M601.6 108.55H604.3M601.6 116.62H604.3M601.6 124.68H604.3M601.6 132.75H604.3M601.6 140.82H604.3M601.6 148.89H604.3M601.6 156.96H604.3M601.6 165.02H604.3M601.6 173.09H604.3M601.6 181.16H604.3M601.6 189.23H604.3M601.6 197.3H604.3M601.6 205.36H604.3M601.6 213.43H604.3M601.6 221.5H604.3M601.6 229.57H604.3M601.6 237.64H604.3M601.6 245.7H604.3M601.6 253.77H604.3M601.6 261.84H604.3M601.6 269.91H604.3M601.6 277.98H604.3M601.6 286.04H604.3M601.6 294.11H604.3M601.6 302.18H604.3M601.6 310.25H604.3M601.6 318.32H604.3M601.6 326.38H604.3M601.6 334.45H604.3M601.6 342.52H604.3M601.6 350.59H604.3M601.6 358.66H604.3M601.6 366.72H604.3M601.6 374.79H604.3M601.6 382.86H604.3M601.6 390.93H604.3M601.6 399H604.3M601.6 407.06H604.3M601.6 415.13H604.3M601.6 423.2H604.3M601.6 431.27H604.3M601.6 439.34H604.3M601.6 447.4H604.3M601.6 455.47H604.3M601.6 463.54H604.3M601.6 471.61H604.3M601.6 479.68H604.3M601.6 487.74H604.3M601.6 495.81H604.3M601.6 503.88H604.3M601.6 511.95H604.3M601.6 520.02H604.3M601.6 528.08H604.3M601.6 536.15H604.3M601.6 544.22H604.3M601.6 552.29H604.3M601.6 560.36H604.3" stroke="#333" stroke-width="0.6" fill="none"/>
<path d="M604.3 0V564.39H683.0" stroke="#333" stroke-width="0.9" fill="none"/>
<path d="M613.6 564.39v2.8M631 564.39v2.8M648.4 564.39v2.8M665.8 564.39v2.8M683.2 564.39v2.8" stroke="#333" stroke-width="0.8" fill="none"/>
<g font-size="7.6" text-anchor="middle" fill="#1a1a1a"><text x="613.6" y="574.1">−4</text><text x="631" y="574.1">−2</text><text x="648.4" y="574.1">0</text><text x="665.8" y="574.1">2</text><text x="683.2" y="574.1">4</text></g>
<text x="646.5" y="581.6" font-size="7.1" text-anchor="middle" fill="#1a1a1a">Log2FC(ref. Infected)</text>
<text class="b" x="515.8" y="597.8" font-size="8.3" fill="#111">Inf. versus Uninf. (ref=Inf.):</text>
<rect x="515.8" y="601.5" width="16.4" height="5.3" fill="#f0c514" stroke="#2a2a2a" stroke-width="0.6"/>
<text x="535.5" y="606.9" font-size="7.5" fill="#1a1a1a">Côte d’Ivoire</text>
<rect x="584.0" y="601.5" width="16.4" height="5.3" fill="#4cc3ec" stroke="#2a2a2a" stroke-width="0.6"/>
<text x="603.8" y="606.9" font-size="7.5" fill="#1a1a1a">Laos</text>
<rect x="626.0" y="601.5" width="16.4" height="5.3" fill="#efd3d9" stroke="#2a2a2a" stroke-width="0.6"/>
<text x="646.4" y="606.9" font-size="7.5" fill="#1a1a1a">Tanzania</text>
<text class="b" x="7.2" y="600" font-size="12">C</text>
<path d="M36.1 620.3V812.4" stroke="#111" stroke-width="1" fill="none"/>
<path d="M32.6 812.4H36.1M32.6 793.19H36.1M32.6 773.98H36.1M32.6 754.77H36.1M32.6 735.56H36.1M32.6 716.35H36.1M32.6 697.14H36.1M32.6 677.93H36.1M32.6 658.72H36.1M32.6 639.51H36.1M32.6 620.3H36.1" stroke="#111" stroke-width="0.8" fill="none"/>
<g font-size="8.4" text-anchor="end" fill="#1a1a1a"><text x="29.1" y="815.3">0</text><text x="29.1" y="796.09">10</text><text x="29.1" y="776.88">20</text><text x="29.1" y="757.67">30</text><text x="29.1" y="738.46">40</text><text x="29.1" y="719.25">50</text><text x="29.1" y="700.04">60</text><text x="29.1" y="680.83">70</text><text x="29.1" y="661.62">80</text><text x="29.1" y="642.41">90</text><text x="29.1" y="623.2">100</text></g>
<text x="10.9" y="716.35" font-size="8.9" text-anchor="middle" fill="#1a1a1a" transform="rotate(-90 10.9 716.35)">Cumulated Relative Abundance (Côte d’Ivoire)</text>
<text class="b" x="44.7" y="625.3" font-size="7.3" fill="#111">Comparison (Inf. vs Uninf.)</text>
<text class="b" x="145" y="625.3" font-size="7.65" fill="#111">Côte d’Ivoire (<tspan class="it">P</tspan><tspan style="font-style:italic;font-weight:normal" font-size="6" dx="0.6" dy="1.4" fill="#333">corr</tspan><tspan dy="-1.4">)</tspan></text>
<path d="M42 628.1H217.6" stroke="#777" stroke-width="1"/>
<text x="44.7" y="635.6" font-size="7.2" fill="#1a1a1a">Non-overlapping species</text>
<text x="44.7" y="646" font-size="7.2" fill="#1a1a1a">Overlapping species</text>
<text x="180.5" y="635.6" font-size="7.2" text-anchor="middle" fill="#1a1a1a">0.0778</text>
<text class="b" x="180.5" y="646" font-size="7.2" text-anchor="middle" fill="#111">0.0001</text>
<path d="M36.99 800.33l2.25 3.94h-4.5zM37.58 801.2l2.25 3.94h-4.5zM38.16 801.13l2.25 3.94h-4.5zM38.75 808.11l2.25 3.94h-4.5zM39.34 796.15l2.25 3.94h-4.5zM39.92 793.27l2.25 3.94h-4.5zM40.51 799.4l2.25 3.94h-4.5zM41.09 800.86l2.25 3.94h-4.5zM41.68 786.15l2.25 3.94h-4.5zM42.27 795.61l2.25 3.94h-4.5zM42.85 801.33l2.25 3.94h-4.5zM43.44 805.04l2.25 3.94h-4.5zM44.02 792.26l2.25 3.94h-4.5zM44.61 804.86l2.25 3.94h-4.5zM45.19 802.99l2.25 3.94h-4.5zM45.78 793.67l2.25 3.94h-4.5zM46.37 806.18l2.25 3.94h-4.5zM46.95 793.3l2.25 3.94h-4.5zM47.54 799.17l2.25 3.94h-4.5zM48.12 808.23l2.25 3.94h-4.5zM48.71 808.9l2.25 3.94h-4.5zM49.3 805.57l2.25 3.94h-4.5zM49.88 796.37l2.25 3.94h-4.5zM50.47 802.21l2.25 3.94h-4.5zM51.05 807.5l2.25 3.94h-4.5zM51.64 802.65l2.25 3.94h-4.5zM52.22 793.46l2.25 3.94h-4.5zM52.81 794.9l2.25 3.94h-4.5zM53.4 795.41l2.25 3.94h-4.5zM53.98 793.15l2.25 3.94h-4.5zM54.57 796.77l2.25 3.94h-4.5zM55.15 808.46l2.25 3.94h-4.5zM55.74 805.62l2.25 3.94h-4.5zM56.33 802.11l2.25 3.94h-4.5zM56.91 800.08l2.25 3.94h-4.5zM57.5 807.11l2.25 3.94h-4.5zM58.08 798.72l2.25 3.94h-4.5zM58.67 793.75l2.25 3.94h-4.5zM59.25 791.02l2.25 3.94h-4.5zM59.84 809.04l2.25 3.94h-4.5zM60.43 797.91l2.25 3.94h-4.5zM61.01 805.79l2.25 3.94h-4.5zM61.6 806.75l2.25 3.94h-4.5zM62.18 805.87l2.25 3.94h-4.5zM62.77 803.43l2.25 3.94h-4.5zM63.36 809.41l2.25 3.94h-4.5zM63.94 808.68l2.25 3.94h-4.5zM64.53 800.12l2.25 3.94h-4.5zM65.11 794.8l2.25 3.94h-4.5zM65.7 798.13l2.25 3.94h-4.5zM66.28 781.44l2.25 3.94h-4.5zM66.87 784.33l2.25 3.94h-4.5zM67.46 797.48l2.25 3.94h-4.5zM68.04 802.84l2.25 3.94h-4.5zM68.63 797.37l2.25 3.94h-4.5zM69.21 797.93l2.25 3.94h-4.5zM69.8 805.71l2.25 3.94h-4.5zM70.39 789.37l2.25 3.94h-4.5zM70.97 795.26l2.25 3.94h-4.5zM71.56 803.3l2.25 3.94h-4.5zM72.14 808.35l2.25 3.94h-4.5zM72.73 789.71l2.25 3.94h-4.5zM73.31 799.98l2.25 3.94h-4.5zM73.9 807.24l2.25 3.94h-4.5zM74.49 809.19l2.25 3.94h-4.5zM75.07 805.84l2.25 3.94h-4.5zM75.66 799.42l2.25 3.94h-4.5zM76.24 809.5l2.25 3.94h-4.5zM76.83 806.3l2.25 3.94h-4.5zM77.42 803.18l2.25 3.94h-4.5zM78 798.56l2.25 3.94h-4.5zM78.59 796.22l2.25 3.94h-4.5zM79.17 805.74l2.25 3.94h-4.5zM79.76 804.4l2.25 3.94h-4.5zM80.34 795.7l2.25 3.94h-4.5zM80.93 793.81l2.25 3.94h-4.5zM81.52 802.15l2.25 3.94h-4.5zM82.1 802.77l2.25 3.94h-4.5zM82.69 804.42l2.25 3.94h-4.5zM83.27 781.83l2.25 3.94h-4.5zM83.86 797.84l2.25 3.94h-4.5zM84.45 789.62l2.25 3.94h-4.5zM85.03 809.27l2.25 3.94h-4.5zM85.62 784.4l2.25 3.94h-4.5zM86.2 799.16l2.25 3.94h-4.5zM86.79 797.85l2.25 3.94h-4.5zM87.37 806.35l2.25 3.94h-4.5zM87.96 809.51l2.25 3.94h-4.5zM88.55 806.69l2.25 3.94h-4.5zM89.13 798.03l2.25 3.94h-4.5zM89.72 797.05l2.25 3.94h-4.5zM90.3 794.54l2.25 3.94h-4.5zM90.89 799.44l2.25 3.94h-4.5zM91.48 794.48l2.25 3.94h-4.5zM92.06 794.99l2.25 3.94h-4.5zM92.65 802.73l2.25 3.94h-4.5zM93.23 806.26l2.25 3.94h-4.5zM93.82 806.43l2.25 3.94h-4.5zM94.4 808.23l2.25 3.94h-4.5zM94.99 808.56l2.25 3.94h-4.5zM95.58 801.86l2.25 3.94h-4.5zM96.16 808.3l2.25 3.94h-4.5zM96.75 796.85l2.25 3.94h-4.5zM97.33 796.16l2.25 3.94h-4.5zM97.92 806.8l2.25 3.94h-4.5zM98.51 807.34l2.25 3.94h-4.5zM99.09 797.59l2.25 3.94h-4.5zM99.68 793.88l2.25 3.94h-4.5zM100.26 794.08l2.25 3.94h-4.5zM100.85 797.51l2.25 3.94h-4.5zM101.43 795.59l2.25 3.94h-4.5zM102.02 803.32l2.25 3.94h-4.5zM102.61 795.94l2.25 3.94h-4.5zM103.19 789.55l2.25 3.94h-4.5zM103.78 800.73l2.25 3.94h-4.5zM104.36 809.22l2.25 3.94h-4.5zM104.95 802.99l2.25 3.94h-4.5zM105.54 801.48l2.25 3.94h-4.5zM106.12 800.68l2.25 3.94h-4.5zM106.71 800.58l2.25 3.94h-4.5zM107.29 801.78l2.25 3.94h-4.5zM107.88 796.05l2.25 3.94h-4.5zM108.46 804.38l2.25 3.94h-4.5zM109.05 794.22l2.25 3.94h-4.5zM109.64 809.31l2.25 3.94h-4.5zM110.22 798.2l2.25 3.94h-4.5zM110.81 799.33l2.25 3.94h-4.5zM111.39 807.63l2.25 3.94h-4.5zM111.98 806.38l2.25 3.94h-4.5zM112.57 803.41l2.25 3.94h-4.5zM113.15 807.02l2.25 3.94h-4.5zM113.74 799.02l2.25 3.94h-4.5zM114.32 810.22l2.25 3.94h-4.5zM114.91 796.14l2.25 3.94h-4.5zM115.49 804.42l2.25 3.94h-4.5zM116.08 793l2.25 3.94h-4.5zM116.67 805.69l2.25 3.94h-4.5zM117.25 808.06l2.25 3.94h-4.5zM117.84 796.48l2.25 3.94h-4.5zM118.42 788.93l2.25 3.94h-4.5zM119.01 794.45l2.25 3.94h-4.5zM119.6 801.23l2.25 3.94h-4.5zM120.18 798.23l2.25 3.94h-4.5zM120.77 785.22l2.25 3.94h-4.5zM121.35 800.18l2.25 3.94h-4.5zM121.94 806.28l2.25 3.94h-4.5zM122.52 808.52l2.25 3.94h-4.5zM123.11 808.65l2.25 3.94h-4.5zM123.7 796.91l2.25 3.94h-4.5zM124.28 801.07l2.25 3.94h-4.5zM124.87 809.46l2.25 3.94h-4.5zM125.45 795.2l2.25 3.94h-4.5zM126.04 806.43l2.25 3.94h-4.5zM126.63 809.43l2.25 3.94h-4.5zM127.21 791.06l2.25 3.94h-4.5zM127.8 804.11l2.25 3.94h-4.5zM128.38 793.26l2.25 3.94h-4.5zM128.97 794.46l2.25 3.94h-4.5zM129.55 796.07l2.25 3.94h-4.5zM130.14 804.42l2.25 3.94h-4.5zM130.73 796.86l2.25 3.94h-4.5zM131.31 797.61l2.25 3.94h-4.5zM131.9 787.3l2.25 3.94h-4.5zM132.48 799.26l2.25 3.94h-4.5zM133.07 802.25l2.25 3.94h-4.5zM133.66 800.78l2.25 3.94h-4.5zM134.24 804.77l2.25 3.94h-4.5zM134.83 796.96l2.25 3.94h-4.5zM135.41 799.4l2.25 3.94h-4.5zM136 802.98l2.25 3.94h-4.5zM136.58 803.41l2.25 3.94h-4.5zM137.17 794.55l2.25 3.94h-4.5zM137.76 793.52l2.25 3.94h-4.5zM138.34 807.79l2.25 3.94h-4.5zM138.93 781.22l2.25 3.94h-4.5zM139.51 801.8l2.25 3.94h-4.5zM140.1 799.47l2.25 3.94h-4.5zM140.69 809.41l2.25 3.94h-4.5zM141.27 799.69l2.25 3.94h-4.5zM141.86 798.74l2.25 3.94h-4.5zM142.44 797.71l2.25 3.94h-4.5zM143.03 789.4l2.25 3.94h-4.5zM143.61 803.17l2.25 3.94h-4.5zM144.2 808.85l2.25 3.94h-4.5zM144.79 783.79l2.25 3.94h-4.5zM145.37 793.42l2.25 3.94h-4.5zM145.96 794.02l2.25 3.94h-4.5zM146.54 793.33l2.25 3.94h-4.5zM147.13 807.76l2.25 3.94h-4.5zM147.72 806.28l2.25 3.94h-4.5zM148.3 807.61l2.25 3.94h-4.5zM148.89 802.07l2.25 3.94h-4.5zM149.47 802.67l2.25 3.94h-4.5zM150.06 793.01l2.25 3.94h-4.5zM150.64 805.7l2.25 3.94h-4.5zM151.23 791.3l2.25 3.94h-4.5zM151.82 803.68l2.25 3.94h-4.5zM152.4 800.25l2.25 3.94h-4.5zM152.99 797.1l2.25 3.94h-4.5zM153.57 793.31l2.25 3.94h-4.5zM154.16 796.1l2.25 3.94h-4.5zM154.75 799.27l2.25 3.94h-4.5zM155.33 808.47l2.25 3.94h-4.5zM155.92 800.48l2.25 3.94h-4.5zM156.5 801.69l2.25 3.94h-4.5zM157.09 797.24l2.25 3.94h-4.5zM157.67 807.68l2.25 3.94h-4.5zM158.26 796.84l2.25 3.94h-4.5zM158.85 805.37l2.25 3.94h-4.5zM159.43 798.76l2.25 3.94h-4.5zM160.02 800.52l2.25 3.94h-4.5zM160.6 798.07l2.25 3.94h-4.5zM161.19 808.06l2.25 3.94h-4.5zM161.78 808.3l2.25 3.94h-4.5zM162.36 798.23l2.25 3.94h-4.5zM162.95 808.41l2.25 3.94h-4.5zM163.53 808.32l2.25 3.94h-4.5zM164.12 798.09l2.25 3.94h-4.5zM164.7 803.71l2.25 3.94h-4.5zM165.29 807.72l2.25 3.94h-4.5zM165.88 794.33l2.25 3.94h-4.5zM166.46 808.97l2.25 3.94h-4.5zM167.05 803.01l2.25 3.94h-4.5zM167.63 793.48l2.25 3.94h-4.5zM168.22 803.58l2.25 3.94h-4.5zM168.81 803.21l2.25 3.94h-4.5zM169.39 796.36l2.25 3.94h-4.5zM169.98 803.16l2.25 3.94h-4.5zM170.56 800.58l2.25 3.94h-4.5zM171.15 801.07l2.25 3.94h-4.5zM171.73 793.53l2.25 3.94h-4.5zM172.32 789.84l2.25 3.94h-4.5zM172.91 808.32l2.25 3.94h-4.5zM173.49 794.95l2.25 3.94h-4.5zM174.08 807.28l2.25 3.94h-4.5zM174.66 805.58l2.25 3.94h-4.5zM175.25 800.97l2.25 3.94h-4.5zM175.84 804.04l2.25 3.94h-4.5zM176.42 801.44l2.25 3.94h-4.5zM177.01 797.85l2.25 3.94h-4.5zM179.19 790.55l2.25 3.94h-4.5zM179.76 790.02l2.25 3.94h-4.5zM180.34 778.24l2.25 3.94h-4.5zM180.91 776.33l2.25 3.94h-4.5zM181.49 796.36l2.25 3.94h-4.5zM182.06 791.01l2.25 3.94h-4.5zM182.64 798.34l2.25 3.94h-4.5zM183.21 792.18l2.25 3.94h-4.5zM183.79 785.28l2.25 3.94h-4.5zM184.36 802.49l2.25 3.94h-4.5zM184.94 800.81l2.25 3.94h-4.5zM185.51 790.14l2.25 3.94h-4.5zM186.09 804.21l2.25 3.94h-4.5zM186.66 791.51l2.25 3.94h-4.5zM187.24 805.22l2.25 3.94h-4.5zM187.81 795.2l2.25 3.94h-4.5zM188.39 790.49l2.25 3.94h-4.5zM188.96 802.88l2.25 3.94h-4.5zM189.54 801.9l2.25 3.94h-4.5zM190.11 794.99l2.25 3.94h-4.5zM190.69 802.87l2.25 3.94h-4.5zM191.26 803.11l2.25 3.94h-4.5zM191.84 800.43l2.25 3.94h-4.5zM192.41 790.72l2.25 3.94h-4.5zM192.99 801.42l2.25 3.94h-4.5zM193.56 777l2.25 3.94h-4.5zM194.14 795.91l2.25 3.94h-4.5zM194.71 783.64l2.25 3.94h-4.5zM195.29 805.47l2.25 3.94h-4.5zM195.86 778.74l2.25 3.94h-4.5zM196.44 796.29l2.25 3.94h-4.5zM197.01 801.15l2.25 3.94h-4.5zM197.59 780.95l2.25 3.94h-4.5zM198.16 806.21l2.25 3.94h-4.5zM198.74 799.28l2.25 3.94h-4.5zM199.31 792.72l2.25 3.94h-4.5zM199.89 803.4l2.25 3.94h-4.5zM200.46 800.24l2.25 3.94h-4.5zM201.04 789.72l2.25 3.94h-4.5zM201.61 794.18l2.25 3.94h-4.5zM202.19 786.96l2.25 3.94h-4.5zM202.76 803.53l2.25 3.94h-4.5zM203.34 806.39l2.25 3.94h-4.5zM203.91 778.05l2.25 3.94h-4.5zM204.49 789.79l2.25 3.94h-4.5zM205.06 792.66l2.25 3.94h-4.5zM205.64 797.2l2.25 3.94h-4.5zM206.21 788.07l2.25 3.94h-4.5zM206.79 789.95l2.25 3.94h-4.5zM207.36 791.26l2.25 3.94h-4.5zM207.94 788.81l2.25 3.94h-4.5zM208.51 790.55l2.25 3.94h-4.5zM209.09 795.98l2.25 3.94h-4.5zM209.66 803.39l2.25 3.94h-4.5zM210.24 786.27l2.25 3.94h-4.5zM210.81 804.96l2.25 3.94h-4.5zM211.39 797.45l2.25 3.94h-4.5zM211.96 799.51l2.25 3.94h-4.5zM212.54 804.39l2.25 3.94h-4.5zM213.11 797.55l2.25 3.94h-4.5zM213.69 778.3l2.25 3.94h-4.5zM214.26 806.18l2.25 3.94h-4.5zM214.84 792.78l2.25 3.94h-4.5zM215.41 795.58l2.25 3.94h-4.5zM215.99 806.22l2.25 3.94h-4.5zM216.56 778.77l2.25 3.94h-4.5zM217.14 794.59l2.25 3.94h-4.5zM217.71 799.2l2.25 3.94h-4.5zM218.29 800.69l2.25 3.94h-4.5zM218.86 798.89l2.25 3.94h-4.5zM219.44 801.49l2.25 3.94h-4.5zM220.01 792.37l2.25 3.94h-4.5zM65.96 748.79l2.25 3.94h-4.5zM75.92 764.16l2.25 3.94h-4.5zM101.51 756.47l2.25 3.94h-4.5zM137.06 768l2.25 3.94h-4.5zM56.01 768l2.25 3.94h-4.5zM95.82 785.29l2.25 3.94h-4.5zM117.15 783.37l2.25 3.94h-4.5zM121.42 781.45l2.25 3.94h-4.5z" fill="#404040"/>
<g fill="#e8383d"><circle cx="36.99" cy="724.28" r="1.95"/><circle cx="37.58" cy="742.49" r="1.95"/><circle cx="38.16" cy="745.52" r="1.95"/><circle cx="38.75" cy="748.5" r="1.95"/><circle cx="39.34" cy="750.16" r="1.95"/><circle cx="39.92" cy="750.76" r="1.95"/><circle cx="40.51" cy="751.49" r="1.95"/><circle cx="41.09" cy="753.87" r="1.95"/><circle cx="41.68" cy="756.25" r="1.95"/><circle cx="42.27" cy="757.91" r="1.95"/><circle cx="42.85" cy="759.1" r="1.95"/><circle cx="43.44" cy="760.28" r="1.95"/><circle cx="44.02" cy="761.47" r="1.95"/><circle cx="44.61" cy="762.66" r="1.95"/><circle cx="45.19" cy="763.85" r="1.95"/><circle cx="45.78" cy="765.04" r="1.95"/><circle cx="46.37" cy="766.23" r="1.95"/><circle cx="46.95" cy="767.42" r="1.95"/><circle cx="47.54" cy="768.61" r="1.95"/><circle cx="48.12" cy="769.51" r="1.95"/><circle cx="48.71" cy="770.3" r="1.95"/><circle cx="49.3" cy="771.1" r="1.95"/><circle cx="49.88" cy="771.89" r="1.95"/><circle cx="50.47" cy="772.68" r="1.95"/><circle cx="51.05" cy="773.48" r="1.95"/><circle cx="51.64" cy="774.27" r="1.95"/><circle cx="52.22" cy="775" r="1.95"/><circle cx="52.81" cy="775.59" r="1.95"/><circle cx="53.4" cy="776.19" r="1.95"/><circle cx="53.98" cy="776.78" r="1.95"/><circle cx="54.57" cy="777.38" r="1.95"/><circle cx="55.15" cy="777.97" r="1.95"/><circle cx="55.74" cy="778.57" r="1.95"/><circle cx="56.33" cy="779.16" r="1.95"/><circle cx="56.91" cy="779.43" r="1.95"/><circle cx="57.5" cy="779.67" r="1.95"/><circle cx="58.08" cy="779.9" r="1.95"/><circle cx="58.67" cy="780.14" r="1.95"/><circle cx="59.25" cy="780.38" r="1.95"/><circle cx="59.84" cy="780.62" r="1.95"/><circle cx="60.43" cy="780.85" r="1.95"/><circle cx="61.01" cy="781.09" r="1.95"/><circle cx="61.6" cy="781.33" r="1.95"/><circle cx="62.18" cy="781.57" r="1.95"/><circle cx="62.77" cy="781.81" r="1.95"/><circle cx="63.36" cy="782.04" r="1.95"/><circle cx="63.94" cy="782.28" r="1.95"/><circle cx="64.53" cy="782.52" r="1.95"/><circle cx="65.11" cy="782.76" r="1.95"/><circle cx="65.7" cy="782.97" r="1.95"/><circle cx="66.28" cy="783.19" r="1.95"/><circle cx="66.87" cy="783.41" r="1.95"/><circle cx="67.46" cy="783.63" r="1.95"/><circle cx="68.04" cy="783.85" r="1.95"/><circle cx="68.63" cy="784.06" r="1.95"/><circle cx="69.21" cy="784.28" r="1.95"/><circle cx="69.8" cy="784.5" r="1.95"/><circle cx="70.39" cy="784.72" r="1.95"/><circle cx="70.97" cy="784.94" r="1.95"/><circle cx="71.56" cy="785.16" r="1.95"/><circle cx="72.14" cy="785.37" r="1.95"/><circle cx="72.73" cy="785.59" r="1.95"/><circle cx="73.31" cy="785.81" r="1.95"/><circle cx="73.9" cy="786.02" r="1.95"/><circle cx="74.49" cy="786.22" r="1.95"/><circle cx="75.07" cy="786.42" r="1.95"/><circle cx="75.66" cy="786.62" r="1.95"/><circle cx="76.24" cy="786.81" r="1.95"/><circle cx="76.83" cy="787.01" r="1.95"/><circle cx="77.42" cy="787.21" r="1.95"/><circle cx="78" cy="787.41" r="1.95"/><circle cx="78.59" cy="787.61" r="1.95"/><circle cx="79.17" cy="787.81" r="1.95"/><circle cx="79.76" cy="788" r="1.95"/><circle cx="80.34" cy="788.2" r="1.95"/><circle cx="80.93" cy="788.4" r="1.95"/><circle cx="81.52" cy="788.6" r="1.95"/><circle cx="82.1" cy="788.8" r="1.95"/><circle cx="82.69" cy="789" r="1.95"/><circle cx="83.27" cy="789.19" r="1.95"/><circle cx="83.86" cy="789.39" r="1.95"/><circle cx="84.45" cy="789.59" r="1.95"/><circle cx="85.03" cy="789.79" r="1.95"/><circle cx="85.62" cy="789.99" r="1.95"/><circle cx="86.2" cy="790.19" r="1.95"/><circle cx="86.79" cy="790.38" r="1.95"/><circle cx="87.37" cy="790.58" r="1.95"/><circle cx="87.96" cy="790.78" r="1.95"/><circle cx="88.55" cy="790.98" r="1.95"/><circle cx="89.13" cy="791.18" r="1.95"/><circle cx="89.72" cy="791.37" r="1.95"/><circle cx="90.3" cy="791.57" r="1.95"/><circle cx="90.89" cy="791.77" r="1.95"/><circle cx="91.48" cy="791.96" r="1.95"/><circle cx="92.06" cy="792.14" r="1.95"/><circle cx="92.65" cy="792.31" r="1.95"/><circle cx="93.23" cy="792.49" r="1.95"/><circle cx="93.82" cy="792.67" r="1.95"/><circle cx="94.4" cy="792.85" r="1.95"/><circle cx="94.99" cy="793.03" r="1.95"/><circle cx="95.58" cy="793.21" r="1.95"/><circle cx="96.16" cy="793.38" r="1.95"/><circle cx="96.75" cy="793.56" r="1.95"/><circle cx="97.33" cy="793.74" r="1.95"/><circle cx="97.92" cy="793.92" r="1.95"/><circle cx="98.51" cy="794.1" r="1.95"/><circle cx="99.09" cy="794.28" r="1.95"/><circle cx="99.68" cy="794.45" r="1.95"/><circle cx="100.26" cy="794.62" r="1.95"/><circle cx="100.85" cy="794.78" r="1.95"/><circle cx="101.43" cy="794.93" r="1.95"/><circle cx="102.02" cy="795.09" r="1.95"/><circle cx="102.61" cy="795.25" r="1.95"/><circle cx="103.19" cy="795.41" r="1.95"/><circle cx="103.78" cy="795.57" r="1.95"/><circle cx="104.36" cy="795.73" r="1.95"/><circle cx="104.95" cy="795.89" r="1.95"/><circle cx="105.54" cy="796.04" r="1.95"/><circle cx="106.12" cy="796.2" r="1.95"/><circle cx="106.71" cy="796.36" r="1.95"/><circle cx="107.29" cy="796.52" r="1.95"/><circle cx="107.88" cy="796.68" r="1.95"/><circle cx="108.46" cy="796.84" r="1.95"/><circle cx="109.05" cy="797.04" r="1.95"/><circle cx="109.64" cy="797.23" r="1.95"/><circle cx="110.22" cy="797.43" r="1.95"/><circle cx="110.81" cy="797.63" r="1.95"/><circle cx="111.39" cy="797.83" r="1.95"/><circle cx="111.98" cy="798.03" r="1.95"/><circle cx="112.57" cy="798.23" r="1.95"/><circle cx="113.15" cy="798.42" r="1.95"/><circle cx="113.74" cy="798.62" r="1.95"/><circle cx="114.32" cy="798.82" r="1.95"/><circle cx="114.91" cy="799.02" r="1.95"/><circle cx="115.49" cy="799.22" r="1.95"/><circle cx="116.08" cy="799.42" r="1.95"/><circle cx="116.67" cy="799.61" r="1.95"/><circle cx="117.25" cy="799.8" r="1.95"/><circle cx="117.84" cy="799.96" r="1.95"/><circle cx="118.42" cy="800.12" r="1.95"/><circle cx="119.01" cy="800.28" r="1.95"/><circle cx="119.6" cy="800.44" r="1.95"/><circle cx="120.18" cy="800.6" r="1.95"/><circle cx="120.77" cy="800.76" r="1.95"/><circle cx="121.35" cy="800.91" r="1.95"/><circle cx="121.94" cy="801.07" r="1.95"/><circle cx="122.52" cy="801.23" r="1.95"/><circle cx="123.11" cy="801.39" r="1.95"/><circle cx="123.7" cy="801.55" r="1.95"/><circle cx="124.28" cy="801.71" r="1.95"/><circle cx="124.87" cy="801.87" r="1.95"/><circle cx="125.45" cy="802.02" r="1.95"/><circle cx="126.04" cy="802.18" r="1.95"/><circle cx="126.63" cy="802.31" r="1.95"/><circle cx="127.21" cy="802.45" r="1.95"/><circle cx="127.8" cy="802.59" r="1.95"/><circle cx="128.38" cy="802.73" r="1.95"/><circle cx="128.97" cy="802.87" r="1.95"/><circle cx="129.55" cy="803.01" r="1.95"/><circle cx="130.14" cy="803.15" r="1.95"/><circle cx="130.73" cy="803.29" r="1.95"/><circle cx="131.31" cy="803.42" r="1.95"/><circle cx="131.9" cy="803.56" r="1.95"/><circle cx="132.48" cy="803.7" r="1.95"/><circle cx="133.07" cy="803.84" r="1.95"/><circle cx="133.66" cy="803.98" r="1.95"/><circle cx="134.24" cy="804.12" r="1.95"/><circle cx="134.83" cy="804.26" r="1.95"/><circle cx="135.41" cy="804.4" r="1.95"/><circle cx="136" cy="804.53" r="1.95"/><circle cx="136.58" cy="804.67" r="1.95"/><circle cx="137.17" cy="804.81" r="1.95"/><circle cx="137.76" cy="804.95" r="1.95"/><circle cx="138.34" cy="805.09" r="1.95"/><circle cx="138.93" cy="805.23" r="1.95"/><circle cx="139.51" cy="805.37" r="1.95"/><circle cx="140.1" cy="805.51" r="1.95"/><circle cx="140.69" cy="805.64" r="1.95"/><circle cx="141.27" cy="805.78" r="1.95"/><circle cx="141.86" cy="805.92" r="1.95"/><circle cx="142.44" cy="806.06" r="1.95"/><circle cx="143.03" cy="806.2" r="1.95"/><circle cx="143.61" cy="806.32" r="1.95"/><circle cx="144.2" cy="806.44" r="1.95"/><circle cx="144.79" cy="806.56" r="1.95"/><circle cx="145.37" cy="806.68" r="1.95"/><circle cx="145.96" cy="806.8" r="1.95"/><circle cx="146.54" cy="806.92" r="1.95"/><circle cx="147.13" cy="807.04" r="1.95"/><circle cx="147.72" cy="807.16" r="1.95"/><circle cx="148.3" cy="807.28" r="1.95"/><circle cx="148.89" cy="807.39" r="1.95"/><circle cx="149.47" cy="807.51" r="1.95"/><circle cx="150.06" cy="807.63" r="1.95"/><circle cx="150.64" cy="807.75" r="1.95"/><circle cx="151.23" cy="807.87" r="1.95"/><circle cx="151.82" cy="807.99" r="1.95"/><circle cx="152.4" cy="808.09" r="1.95"/><circle cx="152.99" cy="808.19" r="1.95"/><circle cx="153.57" cy="808.29" r="1.95"/><circle cx="154.16" cy="808.39" r="1.95"/><circle cx="154.75" cy="808.49" r="1.95"/><circle cx="155.33" cy="808.58" r="1.95"/><circle cx="155.92" cy="808.68" r="1.95"/><circle cx="156.5" cy="808.78" r="1.95"/><circle cx="157.09" cy="808.88" r="1.95"/><circle cx="157.67" cy="808.98" r="1.95"/><circle cx="158.26" cy="809.08" r="1.95"/><circle cx="158.85" cy="809.18" r="1.95"/><circle cx="159.43" cy="809.28" r="1.95"/><circle cx="160.02" cy="809.38" r="1.95"/><circle cx="160.6" cy="809.48" r="1.95"/><circle cx="161.19" cy="809.58" r="1.95"/><circle cx="161.78" cy="809.68" r="1.95"/><circle cx="162.36" cy="809.77" r="1.95"/><circle cx="162.95" cy="809.87" r="1.95"/><circle cx="163.53" cy="809.97" r="1.95"/><circle cx="164.12" cy="810.07" r="1.95"/><circle cx="164.7" cy="810.17" r="1.95"/><circle cx="165.29" cy="810.27" r="1.95"/><circle cx="165.88" cy="810.37" r="1.95"/><circle cx="166.46" cy="810.47" r="1.95"/><circle cx="167.05" cy="810.57" r="1.95"/><circle cx="167.63" cy="810.67" r="1.95"/><circle cx="168.22" cy="810.77" r="1.95"/><circle cx="168.81" cy="810.86" r="1.95"/><circle cx="169.39" cy="810.96" r="1.95"/><circle cx="169.98" cy="811.04" r="1.95"/><circle cx="170.56" cy="811.13" r="1.95"/><circle cx="171.15" cy="811.21" r="1.95"/><circle cx="171.73" cy="811.3" r="1.95"/><circle cx="172.32" cy="811.38" r="1.95"/><circle cx="172.91" cy="811.47" r="1.95"/><circle cx="173.49" cy="811.55" r="1.95"/><circle cx="174.08" cy="811.64" r="1.95"/><circle cx="174.66" cy="811.72" r="1.95"/><circle cx="175.25" cy="811.81" r="1.95"/><circle cx="175.84" cy="811.89" r="1.95"/><circle cx="176.42" cy="811.98" r="1.95"/><circle cx="177.01" cy="812.06" r="1.95"/><circle cx="179.19" cy="720.46" r="1.95"/><circle cx="179.76" cy="728.69" r="1.95"/><circle cx="180.34" cy="749.94" r="1.95"/><circle cx="180.91" cy="751.94" r="1.95"/><circle cx="181.49" cy="754.52" r="1.95"/><circle cx="182.06" cy="757.52" r="1.95"/><circle cx="182.64" cy="759.58" r="1.95"/><circle cx="183.21" cy="761.08" r="1.95"/><circle cx="183.79" cy="762.58" r="1.95"/><circle cx="184.36" cy="764.21" r="1.95"/><circle cx="184.94" cy="765.91" r="1.95"/><circle cx="185.51" cy="767.61" r="1.95"/><circle cx="186.09" cy="768.63" r="1.95"/><circle cx="186.66" cy="769.41" r="1.95"/><circle cx="187.24" cy="770.19" r="1.95"/><circle cx="187.81" cy="770.97" r="1.95"/><circle cx="188.39" cy="771.75" r="1.95"/><circle cx="188.96" cy="772.63" r="1.95"/><circle cx="189.54" cy="773.53" r="1.95"/><circle cx="190.11" cy="774.43" r="1.95"/><circle cx="190.69" cy="775.33" r="1.95"/><circle cx="191.26" cy="776.23" r="1.95"/><circle cx="191.84" cy="776.84" r="1.95"/><circle cx="192.41" cy="777.44" r="1.95"/><circle cx="192.99" cy="778.04" r="1.95"/><circle cx="193.56" cy="778.64" r="1.95"/><circle cx="194.14" cy="779.24" r="1.95"/><circle cx="194.71" cy="779.84" r="1.95"/><circle cx="195.29" cy="780.44" r="1.95"/><circle cx="195.86" cy="781.04" r="1.95"/><circle cx="196.44" cy="781.64" r="1.95"/><circle cx="197.01" cy="782.24" r="1.95"/><circle cx="197.59" cy="782.84" r="1.95"/><circle cx="198.16" cy="783.44" r="1.95"/><circle cx="198.74" cy="784.04" r="1.95"/><circle cx="199.31" cy="784.64" r="1.95"/><circle cx="199.89" cy="785.21" r="1.95"/><circle cx="200.46" cy="785.69" r="1.95"/><circle cx="201.04" cy="786.18" r="1.95"/><circle cx="201.61" cy="786.67" r="1.95"/><circle cx="202.19" cy="787.16" r="1.95"/><circle cx="202.76" cy="787.64" r="1.95"/><circle cx="203.34" cy="788.13" r="1.95"/><circle cx="203.91" cy="788.62" r="1.95"/><circle cx="204.49" cy="789.15" r="1.95"/><circle cx="205.06" cy="789.75" r="1.95"/><circle cx="205.64" cy="790.35" r="1.95"/><circle cx="206.21" cy="790.95" r="1.95"/><circle cx="206.79" cy="791.55" r="1.95"/><circle cx="207.36" cy="792.15" r="1.95"/><circle cx="207.94" cy="792.75" r="1.95"/><circle cx="208.51" cy="793.36" r="1.95"/><circle cx="209.09" cy="794.04" r="1.95"/><circle cx="209.66" cy="794.72" r="1.95"/><circle cx="210.24" cy="795.4" r="1.95"/><circle cx="210.81" cy="796.07" r="1.95"/><circle cx="211.39" cy="796.75" r="1.95"/><circle cx="211.96" cy="797.43" r="1.95"/><circle cx="212.54" cy="798.11" r="1.95"/><circle cx="213.11" cy="798.79" r="1.95"/><circle cx="213.69" cy="799.47" r="1.95"/><circle cx="214.26" cy="800.15" r="1.95"/><circle cx="214.84" cy="800.83" r="1.95"/><circle cx="215.41" cy="801.51" r="1.95"/><circle cx="215.99" cy="802.19" r="1.95"/><circle cx="216.56" cy="802.87" r="1.95"/><circle cx="217.14" cy="803.54" r="1.95"/><circle cx="217.71" cy="804.19" r="1.95"/><circle cx="218.29" cy="804.84" r="1.95"/><circle cx="218.86" cy="805.49" r="1.95"/><circle cx="219.44" cy="806.14" r="1.95"/><circle cx="220.01" cy="806.79" r="1.95"/></g>
<path d="M36.1 812.4H221.3V826.4H36.1ZM178.3 812.4V826.4" stroke="#111" stroke-width="0.9" fill="none"/>
<text x="107.2" y="823" font-size="8.8" text-anchor="middle" fill="#1a1a1a">Inf.</text>
<text x="199.8" y="823" font-size="8.8" text-anchor="middle" fill="#1a1a1a">Uninf.</text>
<path d="M267.8 620.3V812.4" stroke="#111" stroke-width="1" fill="none"/>
<path d="M264.3 812.4H267.8M264.3 793.19H267.8M264.3 773.98H267.8M264.3 754.77H267.8M264.3 735.56H267.8M264.3 716.35H267.8M264.3 697.14H267.8M264.3 677.93H267.8M264.3 658.72H267.8M264.3 639.51H267.8M264.3 620.3H267.8" stroke="#111" stroke-width="0.8" fill="none"/>
<g font-size="8.4" text-anchor="end" fill="#1a1a1a"><text x="260.8" y="815.3">0</text><text x="260.8" y="796.09">10</text><text x="260.8" y="776.88">20</text><text x="260.8" y="757.67">30</text><text x="260.8" y="738.46">40</text><text x="260.8" y="719.25">50</text><text x="260.8" y="700.04">60</text><text x="260.8" y="680.83">70</text><text x="260.8" y="661.62">80</text><text x="260.8" y="642.41">90</text><text x="260.8" y="623.2">100</text></g>
<text x="242.6" y="716.35" font-size="8.9" text-anchor="middle" fill="#1a1a1a" transform="rotate(-90 242.6 716.35)">Cumulated Relative Abundance (Laos)</text>
<text class="b" x="276.4" y="625.3" font-size="7.3" fill="#111">Comparison (Inf. vs Uninf.)</text>
<text class="b" x="391.7" y="625.3" font-size="7.65" fill="#111">Laos (<tspan class="it">P</tspan><tspan style="font-style:italic;font-weight:normal" font-size="6" dx="0.6" dy="1.4" fill="#333">corr</tspan><tspan dy="-1.4">)</tspan></text>
<path d="M274.3 628.1H449.5" stroke="#777" stroke-width="1"/>
<text x="276.4" y="635.6" font-size="7.2" fill="#1a1a1a">Non-overlapping species</text>
<text x="276.4" y="646" font-size="7.2" fill="#1a1a1a">Overlapping species</text>
<text x="411.8" y="635.6" font-size="7.2" text-anchor="middle" fill="#1a1a1a">1</text>
<text class="b" x="411.8" y="646" font-size="7.2" text-anchor="middle" fill="#111">0.0413</text>
<path d="M268.75 736.28l2.25 3.94h-4.5zM269.44 747.28l2.25 3.94h-4.5zM270.13 698.84l2.25 3.94h-4.5zM270.82 736.18l2.25 3.94h-4.5zM271.51 741.63l2.25 3.94h-4.5zM272.2 737.37l2.25 3.94h-4.5zM272.89 753.68l2.25 3.94h-4.5zM273.58 757.19l2.25 3.94h-4.5zM274.27 735.83l2.25 3.94h-4.5zM274.96 752.53l2.25 3.94h-4.5zM275.65 731.08l2.25 3.94h-4.5zM276.34 748.56l2.25 3.94h-4.5zM277.03 775.43l2.25 3.94h-4.5zM277.72 767.43l2.25 3.94h-4.5zM278.41 759.61l2.25 3.94h-4.5zM279.1 778.98l2.25 3.94h-4.5zM279.79 746.29l2.25 3.94h-4.5zM280.48 749.92l2.25 3.94h-4.5zM281.17 728.94l2.25 3.94h-4.5zM281.86 759.73l2.25 3.94h-4.5zM282.55 748.89l2.25 3.94h-4.5zM283.24 735.11l2.25 3.94h-4.5zM283.94 732.28l2.25 3.94h-4.5zM284.63 762.43l2.25 3.94h-4.5zM285.32 718.9l2.25 3.94h-4.5zM286.01 755.64l2.25 3.94h-4.5zM286.7 724.47l2.25 3.94h-4.5zM287.39 750.04l2.25 3.94h-4.5zM288.08 752.11l2.25 3.94h-4.5zM288.77 766.26l2.25 3.94h-4.5zM289.46 747.11l2.25 3.94h-4.5zM290.15 704.09l2.25 3.94h-4.5zM290.84 755.84l2.25 3.94h-4.5zM291.53 718.65l2.25 3.94h-4.5zM292.22 722.22l2.25 3.94h-4.5zM292.91 751.61l2.25 3.94h-4.5zM293.6 725.84l2.25 3.94h-4.5zM294.29 721.18l2.25 3.94h-4.5zM294.98 750.12l2.25 3.94h-4.5zM295.67 754.02l2.25 3.94h-4.5zM296.36 725.78l2.25 3.94h-4.5zM297.05 738.84l2.25 3.94h-4.5zM297.74 708.54l2.25 3.94h-4.5zM298.43 737.46l2.25 3.94h-4.5zM299.13 764.64l2.25 3.94h-4.5zM299.82 745.73l2.25 3.94h-4.5zM300.51 765.18l2.25 3.94h-4.5zM301.2 732.01l2.25 3.94h-4.5zM301.89 732.84l2.25 3.94h-4.5zM302.58 751.96l2.25 3.94h-4.5zM303.27 760.09l2.25 3.94h-4.5zM303.96 729.57l2.25 3.94h-4.5zM304.65 751.39l2.25 3.94h-4.5zM305.34 723.94l2.25 3.94h-4.5zM306.03 761.72l2.25 3.94h-4.5zM306.72 749.61l2.25 3.94h-4.5zM307.41 754.23l2.25 3.94h-4.5zM308.1 762.68l2.25 3.94h-4.5zM308.79 698.84l2.25 3.94h-4.5zM309.48 716.09l2.25 3.94h-4.5zM310.17 755.65l2.25 3.94h-4.5zM310.86 731.28l2.25 3.94h-4.5zM311.55 775.76l2.25 3.94h-4.5zM312.24 723.38l2.25 3.94h-4.5zM312.93 726.27l2.25 3.94h-4.5zM313.62 750.74l2.25 3.94h-4.5zM314.32 750.92l2.25 3.94h-4.5zM315.01 740.65l2.25 3.94h-4.5zM315.7 737.02l2.25 3.94h-4.5zM316.39 751.06l2.25 3.94h-4.5zM317.08 759.44l2.25 3.94h-4.5zM317.77 749.32l2.25 3.94h-4.5zM318.46 752.2l2.25 3.94h-4.5zM319.15 731.42l2.25 3.94h-4.5zM319.84 743.33l2.25 3.94h-4.5zM320.53 740.77l2.25 3.94h-4.5zM321.22 773.34l2.25 3.94h-4.5zM321.91 751.38l2.25 3.94h-4.5zM322.6 751.55l2.25 3.94h-4.5zM323.29 753.69l2.25 3.94h-4.5zM323.98 746.8l2.25 3.94h-4.5zM324.67 749.96l2.25 3.94h-4.5zM325.36 770.9l2.25 3.94h-4.5zM326.05 728.65l2.25 3.94h-4.5zM326.74 728.99l2.25 3.94h-4.5zM327.43 753.59l2.25 3.94h-4.5zM328.12 734.01l2.25 3.94h-4.5zM328.81 760.71l2.25 3.94h-4.5zM329.51 766.35l2.25 3.94h-4.5zM330.2 748.19l2.25 3.94h-4.5zM330.89 718.05l2.25 3.94h-4.5zM331.58 746.42l2.25 3.94h-4.5zM332.27 770.89l2.25 3.94h-4.5zM332.96 740.51l2.25 3.94h-4.5zM333.65 754.43l2.25 3.94h-4.5zM334.34 756.9l2.25 3.94h-4.5zM335.03 738.51l2.25 3.94h-4.5zM335.72 774.48l2.25 3.94h-4.5zM336.41 775.29l2.25 3.94h-4.5zM337.1 769.54l2.25 3.94h-4.5zM337.79 725.85l2.25 3.94h-4.5zM338.48 742.76l2.25 3.94h-4.5zM339.17 754.83l2.25 3.94h-4.5zM339.86 756.1l2.25 3.94h-4.5zM340.55 733.07l2.25 3.94h-4.5zM341.24 722.88l2.25 3.94h-4.5zM341.93 756.79l2.25 3.94h-4.5zM342.62 739.77l2.25 3.94h-4.5zM343.31 703.74l2.25 3.94h-4.5zM344 733.85l2.25 3.94h-4.5zM344.7 749.85l2.25 3.94h-4.5zM345.39 738.4l2.25 3.94h-4.5zM346.08 742.32l2.25 3.94h-4.5zM346.77 732.7l2.25 3.94h-4.5zM347.46 738.07l2.25 3.94h-4.5zM348.15 752.63l2.25 3.94h-4.5zM348.84 746.17l2.25 3.94h-4.5zM349.53 737.66l2.25 3.94h-4.5zM350.22 755.89l2.25 3.94h-4.5zM350.91 742.86l2.25 3.94h-4.5zM351.6 759.78l2.25 3.94h-4.5zM352.29 722.86l2.25 3.94h-4.5zM352.98 717.36l2.25 3.94h-4.5zM353.67 758.99l2.25 3.94h-4.5zM354.36 729.5l2.25 3.94h-4.5zM355.05 741.16l2.25 3.94h-4.5zM355.74 742.49l2.25 3.94h-4.5zM356.43 748.39l2.25 3.94h-4.5zM357.12 739.46l2.25 3.94h-4.5zM357.81 726.81l2.25 3.94h-4.5zM358.5 765.06l2.25 3.94h-4.5zM359.19 726.63l2.25 3.94h-4.5zM359.89 748.58l2.25 3.94h-4.5zM360.58 762.83l2.25 3.94h-4.5zM361.27 744.88l2.25 3.94h-4.5zM361.96 733.12l2.25 3.94h-4.5zM362.65 745.56l2.25 3.94h-4.5zM363.34 738.98l2.25 3.94h-4.5zM364.03 749.78l2.25 3.94h-4.5zM364.72 753.21l2.25 3.94h-4.5zM365.41 726.87l2.25 3.94h-4.5zM366.1 760.01l2.25 3.94h-4.5zM366.79 726.97l2.25 3.94h-4.5zM367.48 738.25l2.25 3.94h-4.5zM368.17 748.76l2.25 3.94h-4.5zM368.86 747.86l2.25 3.94h-4.5zM369.55 748.95l2.25 3.94h-4.5zM370.24 744.61l2.25 3.94h-4.5zM370.93 744.8l2.25 3.94h-4.5zM371.62 746.42l2.25 3.94h-4.5zM372.31 777.05l2.25 3.94h-4.5zM373 780l2.25 3.94h-4.5zM373.69 738.17l2.25 3.94h-4.5zM374.38 754.73l2.25 3.94h-4.5zM375.08 753.7l2.25 3.94h-4.5zM375.77 746.88l2.25 3.94h-4.5zM376.46 762.82l2.25 3.94h-4.5zM377.15 717.67l2.25 3.94h-4.5zM377.84 744.04l2.25 3.94h-4.5zM378.53 746.96l2.25 3.94h-4.5zM379.22 761.96l2.25 3.94h-4.5zM379.91 728.95l2.25 3.94h-4.5zM380.6 731.67l2.25 3.94h-4.5zM381.29 718.7l2.25 3.94h-4.5zM381.98 728.77l2.25 3.94h-4.5zM382.67 757.82l2.25 3.94h-4.5zM383.36 765.49l2.25 3.94h-4.5zM384.05 720.77l2.25 3.94h-4.5zM384.74 755.46l2.25 3.94h-4.5zM385.43 745.8l2.25 3.94h-4.5zM386.12 746.62l2.25 3.94h-4.5zM386.81 735.48l2.25 3.94h-4.5zM387.5 734.63l2.25 3.94h-4.5zM388.19 761.5l2.25 3.94h-4.5zM388.88 754.85l2.25 3.94h-4.5zM389.57 773.38l2.25 3.94h-4.5zM390.27 734.48l2.25 3.94h-4.5zM390.96 746.69l2.25 3.94h-4.5zM391.65 772.53l2.25 3.94h-4.5zM392.34 726.39l2.25 3.94h-4.5zM393.03 743.76l2.25 3.94h-4.5zM393.72 761.05l2.25 3.94h-4.5zM394.41 750.95l2.25 3.94h-4.5zM395.1 753.87l2.25 3.94h-4.5zM395.79 742.18l2.25 3.94h-4.5zM396.48 740.47l2.25 3.94h-4.5zM397.17 753.67l2.25 3.94h-4.5zM397.86 736.73l2.25 3.94h-4.5zM398.55 783.37l2.25 3.94h-4.5zM399.24 749.73l2.25 3.94h-4.5zM399.93 733l2.25 3.94h-4.5zM400.62 727.86l2.25 3.94h-4.5zM401.31 730.4l2.25 3.94h-4.5zM402 761.52l2.25 3.94h-4.5zM402.69 772.45l2.25 3.94h-4.5zM403.38 749.69l2.25 3.94h-4.5zM404.07 705.54l2.25 3.94h-4.5zM404.76 739.51l2.25 3.94h-4.5zM405.46 756.45l2.25 3.94h-4.5zM406.15 772.22l2.25 3.94h-4.5zM406.84 741.56l2.25 3.94h-4.5zM407.53 751.57l2.25 3.94h-4.5zM408.22 735.6l2.25 3.94h-4.5zM408.91 740.79l2.25 3.94h-4.5zM409.6 783.37l2.25 3.94h-4.5zM410.29 746.11l2.25 3.94h-4.5zM410.98 730.78l2.25 3.94h-4.5zM411.67 754.03l2.25 3.94h-4.5zM412.36 764.2l2.25 3.94h-4.5zM413.05 763.59l2.25 3.94h-4.5zM413.74 766.4l2.25 3.94h-4.5zM414.43 707.28l2.25 3.94h-4.5zM415.12 720.38l2.25 3.94h-4.5zM415.81 754.36l2.25 3.94h-4.5zM416.5 721.06l2.25 3.94h-4.5zM417.19 761.98l2.25 3.94h-4.5zM417.88 753.24l2.25 3.94h-4.5zM418.57 756.7l2.25 3.94h-4.5zM419.26 747.31l2.25 3.94h-4.5zM419.95 733.13l2.25 3.94h-4.5zM422.15 704.61l2.25 3.94h-4.5zM422.66 722.56l2.25 3.94h-4.5zM423.16 742.62l2.25 3.94h-4.5zM423.67 736.27l2.25 3.94h-4.5zM424.17 745.45l2.25 3.94h-4.5zM424.68 731.26l2.25 3.94h-4.5zM425.18 760.6l2.25 3.94h-4.5zM425.69 734.11l2.25 3.94h-4.5zM426.19 729.27l2.25 3.94h-4.5zM426.7 717.69l2.25 3.94h-4.5zM427.2 759.65l2.25 3.94h-4.5zM427.71 730.12l2.25 3.94h-4.5zM428.21 733.47l2.25 3.94h-4.5zM428.72 759.3l2.25 3.94h-4.5zM429.22 786.81l2.25 3.94h-4.5zM429.73 753.22l2.25 3.94h-4.5zM430.23 719.5l2.25 3.94h-4.5zM430.74 746.79l2.25 3.94h-4.5zM431.24 704.61l2.25 3.94h-4.5zM431.75 726.88l2.25 3.94h-4.5zM432.25 757.19l2.25 3.94h-4.5zM432.76 742.54l2.25 3.94h-4.5zM433.26 729.3l2.25 3.94h-4.5zM433.77 728.82l2.25 3.94h-4.5zM434.27 745.78l2.25 3.94h-4.5zM434.78 729.41l2.25 3.94h-4.5zM435.28 704.61l2.25 3.94h-4.5zM435.79 718.6l2.25 3.94h-4.5zM436.29 736.28l2.25 3.94h-4.5zM436.8 751.33l2.25 3.94h-4.5zM437.3 782.25l2.25 3.94h-4.5zM437.81 736.1l2.25 3.94h-4.5zM438.31 749.83l2.25 3.94h-4.5zM438.82 741.35l2.25 3.94h-4.5zM439.32 753.16l2.25 3.94h-4.5zM439.83 722.03l2.25 3.94h-4.5zM440.33 714.92l2.25 3.94h-4.5zM440.84 756.71l2.25 3.94h-4.5zM441.34 772.57l2.25 3.94h-4.5zM441.85 732.81l2.25 3.94h-4.5zM442.35 707.64l2.25 3.94h-4.5zM442.86 730.55l2.25 3.94h-4.5zM443.36 728.86l2.25 3.94h-4.5zM443.87 773.21l2.25 3.94h-4.5zM444.37 753.25l2.25 3.94h-4.5zM444.88 726.59l2.25 3.94h-4.5zM445.38 731.59l2.25 3.94h-4.5zM445.89 740.5l2.25 3.94h-4.5zM446.39 726.81l2.25 3.94h-4.5zM446.9 720.19l2.25 3.94h-4.5zM447.4 738.26l2.25 3.94h-4.5zM447.91 756.98l2.25 3.94h-4.5zM448.41 773.38l2.25 3.94h-4.5zM448.92 735.44l2.25 3.94h-4.5zM449.42 744.33l2.25 3.94h-4.5zM449.93 744.52l2.25 3.94h-4.5zM450.43 714.25l2.25 3.94h-4.5zM450.94 755.75l2.25 3.94h-4.5zM451.44 746.71l2.25 3.94h-4.5zM451.95 725l2.25 3.94h-4.5zM437.25 658.5l2.25 3.94h-4.5zM450.01 706.53l2.25 3.94h-4.5zM362.97 698.84l2.25 3.94h-4.5zM402.88 698.84l2.25 3.94h-4.5zM373.72 706.53l2.25 3.94h-4.5z" fill="#404040"/>
<g fill="#e8383d"><circle cx="268.75" cy="675.23" r="1.95"/><circle cx="269.44" cy="731.62" r="1.95"/><circle cx="270.13" cy="733.24" r="1.95"/><circle cx="270.82" cy="734.02" r="1.95"/><circle cx="271.51" cy="734.89" r="1.95"/><circle cx="272.2" cy="735.94" r="1.95"/><circle cx="272.89" cy="736.99" r="1.95"/><circle cx="273.58" cy="738.04" r="1.95"/><circle cx="274.27" cy="739.09" r="1.95"/><circle cx="274.96" cy="740.14" r="1.95"/><circle cx="275.65" cy="741.2" r="1.95"/><circle cx="276.34" cy="742.25" r="1.95"/><circle cx="277.03" cy="743.3" r="1.95"/><circle cx="277.72" cy="744.02" r="1.95"/><circle cx="278.41" cy="744.73" r="1.95"/><circle cx="279.1" cy="745.43" r="1.95"/><circle cx="279.79" cy="746.13" r="1.95"/><circle cx="280.48" cy="746.83" r="1.95"/><circle cx="281.17" cy="747.53" r="1.95"/><circle cx="281.86" cy="748.23" r="1.95"/><circle cx="282.55" cy="748.93" r="1.95"/><circle cx="283.24" cy="749.5" r="1.95"/><circle cx="283.94" cy="749.97" r="1.95"/><circle cx="284.63" cy="750.44" r="1.95"/><circle cx="285.32" cy="750.91" r="1.95"/><circle cx="286.01" cy="751.37" r="1.95"/><circle cx="286.7" cy="751.84" r="1.95"/><circle cx="287.39" cy="752.31" r="1.95"/><circle cx="288.08" cy="752.77" r="1.95"/><circle cx="288.77" cy="753.24" r="1.95"/><circle cx="289.46" cy="753.71" r="1.95"/><circle cx="290.15" cy="754.18" r="1.95"/><circle cx="290.84" cy="754.64" r="1.95"/><circle cx="291.53" cy="755.11" r="1.95"/><circle cx="292.22" cy="755.46" r="1.95"/><circle cx="292.91" cy="755.82" r="1.95"/><circle cx="293.6" cy="756.17" r="1.95"/><circle cx="294.29" cy="756.52" r="1.95"/><circle cx="294.98" cy="756.87" r="1.95"/><circle cx="295.67" cy="757.22" r="1.95"/><circle cx="296.36" cy="757.57" r="1.95"/><circle cx="297.05" cy="757.92" r="1.95"/><circle cx="297.74" cy="758.27" r="1.95"/><circle cx="298.43" cy="758.62" r="1.95"/><circle cx="299.13" cy="758.97" r="1.95"/><circle cx="299.82" cy="759.32" r="1.95"/><circle cx="300.51" cy="759.67" r="1.95"/><circle cx="301.2" cy="760.02" r="1.95"/><circle cx="301.89" cy="760.37" r="1.95"/><circle cx="302.58" cy="760.72" r="1.95"/><circle cx="303.27" cy="761.05" r="1.95"/><circle cx="303.96" cy="761.27" r="1.95"/><circle cx="304.65" cy="761.5" r="1.95"/><circle cx="305.34" cy="761.73" r="1.95"/><circle cx="306.03" cy="761.96" r="1.95"/><circle cx="306.72" cy="762.18" r="1.95"/><circle cx="307.41" cy="762.41" r="1.95"/><circle cx="308.1" cy="762.64" r="1.95"/><circle cx="308.79" cy="762.87" r="1.95"/><circle cx="309.48" cy="763.1" r="1.95"/><circle cx="310.17" cy="763.32" r="1.95"/><circle cx="310.86" cy="763.55" r="1.95"/><circle cx="311.55" cy="763.78" r="1.95"/><circle cx="312.24" cy="764.01" r="1.95"/><circle cx="312.93" cy="764.24" r="1.95"/><circle cx="313.62" cy="764.46" r="1.95"/><circle cx="314.32" cy="764.69" r="1.95"/><circle cx="315.01" cy="764.91" r="1.95"/><circle cx="315.7" cy="765.12" r="1.95"/><circle cx="316.39" cy="765.33" r="1.95"/><circle cx="317.08" cy="765.54" r="1.95"/><circle cx="317.77" cy="765.75" r="1.95"/><circle cx="318.46" cy="765.96" r="1.95"/><circle cx="319.15" cy="766.17" r="1.95"/><circle cx="319.84" cy="766.38" r="1.95"/><circle cx="320.53" cy="766.59" r="1.95"/><circle cx="321.22" cy="766.8" r="1.95"/><circle cx="321.91" cy="767.01" r="1.95"/><circle cx="322.6" cy="767.22" r="1.95"/><circle cx="323.29" cy="767.43" r="1.95"/><circle cx="323.98" cy="767.64" r="1.95"/><circle cx="324.67" cy="767.85" r="1.95"/><circle cx="325.36" cy="768.06" r="1.95"/><circle cx="326.05" cy="768.28" r="1.95"/><circle cx="326.74" cy="768.49" r="1.95"/><circle cx="327.43" cy="768.7" r="1.95"/><circle cx="328.12" cy="768.91" r="1.95"/><circle cx="328.81" cy="769.12" r="1.95"/><circle cx="329.51" cy="769.33" r="1.95"/><circle cx="330.2" cy="769.54" r="1.95"/><circle cx="330.89" cy="769.75" r="1.95"/><circle cx="331.58" cy="769.96" r="1.95"/><circle cx="332.27" cy="770.17" r="1.95"/><circle cx="332.96" cy="770.38" r="1.95"/><circle cx="333.65" cy="770.59" r="1.95"/><circle cx="334.34" cy="770.8" r="1.95"/><circle cx="335.03" cy="771.01" r="1.95"/><circle cx="335.72" cy="771.22" r="1.95"/><circle cx="336.41" cy="771.43" r="1.95"/><circle cx="337.1" cy="771.64" r="1.95"/><circle cx="337.79" cy="771.85" r="1.95"/><circle cx="338.48" cy="772.03" r="1.95"/><circle cx="339.17" cy="772.2" r="1.95"/><circle cx="339.86" cy="772.38" r="1.95"/><circle cx="340.55" cy="772.55" r="1.95"/><circle cx="341.24" cy="772.73" r="1.95"/><circle cx="341.93" cy="772.9" r="1.95"/><circle cx="342.62" cy="773.08" r="1.95"/><circle cx="343.31" cy="773.25" r="1.95"/><circle cx="344" cy="773.43" r="1.95"/><circle cx="344.7" cy="773.6" r="1.95"/><circle cx="345.39" cy="773.78" r="1.95"/><circle cx="346.08" cy="773.96" r="1.95"/><circle cx="346.77" cy="774.13" r="1.95"/><circle cx="347.46" cy="774.31" r="1.95"/><circle cx="348.15" cy="774.48" r="1.95"/><circle cx="348.84" cy="774.66" r="1.95"/><circle cx="349.53" cy="774.83" r="1.95"/><circle cx="350.22" cy="775.01" r="1.95"/><circle cx="350.91" cy="775.18" r="1.95"/><circle cx="351.6" cy="775.36" r="1.95"/><circle cx="352.29" cy="775.53" r="1.95"/><circle cx="352.98" cy="775.71" r="1.95"/><circle cx="353.67" cy="775.88" r="1.95"/><circle cx="354.36" cy="776.06" r="1.95"/><circle cx="355.05" cy="776.23" r="1.95"/><circle cx="355.74" cy="776.41" r="1.95"/><circle cx="356.43" cy="776.58" r="1.95"/><circle cx="357.12" cy="776.76" r="1.95"/><circle cx="357.81" cy="776.93" r="1.95"/><circle cx="358.5" cy="777.11" r="1.95"/><circle cx="359.19" cy="777.28" r="1.95"/><circle cx="359.89" cy="777.46" r="1.95"/><circle cx="360.58" cy="777.64" r="1.95"/><circle cx="361.27" cy="777.83" r="1.95"/><circle cx="361.96" cy="778.06" r="1.95"/><circle cx="362.65" cy="778.29" r="1.95"/><circle cx="363.34" cy="778.52" r="1.95"/><circle cx="364.03" cy="778.74" r="1.95"/><circle cx="364.72" cy="778.97" r="1.95"/><circle cx="365.41" cy="779.2" r="1.95"/><circle cx="366.1" cy="779.43" r="1.95"/><circle cx="366.79" cy="779.65" r="1.95"/><circle cx="367.48" cy="779.88" r="1.95"/><circle cx="368.17" cy="780.11" r="1.95"/><circle cx="368.86" cy="780.34" r="1.95"/><circle cx="369.55" cy="780.57" r="1.95"/><circle cx="370.24" cy="780.79" r="1.95"/><circle cx="370.93" cy="781.02" r="1.95"/><circle cx="371.62" cy="781.25" r="1.95"/><circle cx="372.31" cy="781.48" r="1.95"/><circle cx="373" cy="781.73" r="1.95"/><circle cx="373.69" cy="781.99" r="1.95"/><circle cx="374.38" cy="782.25" r="1.95"/><circle cx="375.08" cy="782.52" r="1.95"/><circle cx="375.77" cy="782.78" r="1.95"/><circle cx="376.46" cy="783.04" r="1.95"/><circle cx="377.15" cy="783.3" r="1.95"/><circle cx="377.84" cy="783.57" r="1.95"/><circle cx="378.53" cy="783.83" r="1.95"/><circle cx="379.22" cy="784.09" r="1.95"/><circle cx="379.91" cy="784.36" r="1.95"/><circle cx="380.6" cy="784.62" r="1.95"/><circle cx="381.29" cy="784.88" r="1.95"/><circle cx="381.98" cy="785.14" r="1.95"/><circle cx="382.67" cy="785.41" r="1.95"/><circle cx="383.36" cy="785.67" r="1.95"/><circle cx="384.05" cy="785.93" r="1.95"/><circle cx="384.74" cy="786.2" r="1.95"/><circle cx="385.43" cy="786.46" r="1.95"/><circle cx="386.12" cy="786.72" r="1.95"/><circle cx="386.81" cy="786.98" r="1.95"/><circle cx="387.5" cy="787.25" r="1.95"/><circle cx="388.19" cy="787.51" r="1.95"/><circle cx="388.88" cy="787.77" r="1.95"/><circle cx="389.57" cy="788.04" r="1.95"/><circle cx="390.27" cy="788.3" r="1.95"/><circle cx="390.96" cy="788.56" r="1.95"/><circle cx="391.65" cy="788.82" r="1.95"/><circle cx="392.34" cy="789.09" r="1.95"/><circle cx="393.03" cy="789.35" r="1.95"/><circle cx="393.72" cy="789.61" r="1.95"/><circle cx="394.41" cy="789.88" r="1.95"/><circle cx="395.1" cy="790.14" r="1.95"/><circle cx="395.79" cy="790.4" r="1.95"/><circle cx="396.48" cy="790.63" r="1.95"/><circle cx="397.17" cy="790.87" r="1.95"/><circle cx="397.86" cy="791.1" r="1.95"/><circle cx="398.55" cy="791.33" r="1.95"/><circle cx="399.24" cy="791.57" r="1.95"/><circle cx="399.93" cy="791.8" r="1.95"/><circle cx="400.62" cy="792.03" r="1.95"/><circle cx="401.31" cy="792.27" r="1.95"/><circle cx="402" cy="792.5" r="1.95"/><circle cx="402.69" cy="792.73" r="1.95"/><circle cx="403.38" cy="792.97" r="1.95"/><circle cx="404.07" cy="793.2" r="1.95"/><circle cx="404.76" cy="793.6" r="1.95"/><circle cx="405.46" cy="794.12" r="1.95"/><circle cx="406.15" cy="794.65" r="1.95"/><circle cx="406.84" cy="795.17" r="1.95"/><circle cx="407.53" cy="795.7" r="1.95"/><circle cx="408.22" cy="796.22" r="1.95"/><circle cx="408.91" cy="796.75" r="1.95"/><circle cx="409.6" cy="797.28" r="1.95"/><circle cx="410.29" cy="797.83" r="1.95"/><circle cx="410.98" cy="798.53" r="1.95"/><circle cx="411.67" cy="799.23" r="1.95"/><circle cx="412.36" cy="799.93" r="1.95"/><circle cx="413.05" cy="800.63" r="1.95"/><circle cx="413.74" cy="801.34" r="1.95"/><circle cx="414.43" cy="802.04" r="1.95"/><circle cx="415.12" cy="802.74" r="1.95"/><circle cx="415.81" cy="803.44" r="1.95"/><circle cx="416.5" cy="804.58" r="1.95"/><circle cx="417.19" cy="805.84" r="1.95"/><circle cx="417.88" cy="807.1" r="1.95"/><circle cx="418.57" cy="808.36" r="1.95"/><circle cx="419.26" cy="809.71" r="1.95"/><circle cx="419.95" cy="811.11" r="1.95"/><circle cx="422.15" cy="716.06" r="1.95"/><circle cx="422.66" cy="742.49" r="1.95"/><circle cx="423.16" cy="758.75" r="1.95"/><circle cx="423.67" cy="760.9" r="1.95"/><circle cx="424.17" cy="763.05" r="1.95"/><circle cx="424.68" cy="764.89" r="1.95"/><circle cx="425.18" cy="766.5" r="1.95"/><circle cx="425.69" cy="768.12" r="1.95"/><circle cx="426.19" cy="769.74" r="1.95"/><circle cx="426.7" cy="771.35" r="1.95"/><circle cx="427.2" cy="772.88" r="1.95"/><circle cx="427.71" cy="773.89" r="1.95"/><circle cx="428.21" cy="774.9" r="1.95"/><circle cx="428.72" cy="775.91" r="1.95"/><circle cx="429.22" cy="776.92" r="1.95"/><circle cx="429.73" cy="777.93" r="1.95"/><circle cx="430.23" cy="778.94" r="1.95"/><circle cx="430.74" cy="779.95" r="1.95"/><circle cx="431.24" cy="780.96" r="1.95"/><circle cx="431.75" cy="781.89" r="1.95"/><circle cx="432.25" cy="782.7" r="1.95"/><circle cx="432.76" cy="783.5" r="1.95"/><circle cx="433.26" cy="784.31" r="1.95"/><circle cx="433.77" cy="785.12" r="1.95"/><circle cx="434.27" cy="785.93" r="1.95"/><circle cx="434.78" cy="786.74" r="1.95"/><circle cx="435.28" cy="787.54" r="1.95"/><circle cx="435.79" cy="788.35" r="1.95"/><circle cx="436.29" cy="789.16" r="1.95"/><circle cx="436.8" cy="789.97" r="1.95"/><circle cx="437.3" cy="790.71" r="1.95"/><circle cx="437.81" cy="791.38" r="1.95"/><circle cx="438.31" cy="792.05" r="1.95"/><circle cx="438.82" cy="792.73" r="1.95"/><circle cx="439.32" cy="793.4" r="1.95"/><circle cx="439.83" cy="794.07" r="1.95"/><circle cx="440.33" cy="794.75" r="1.95"/><circle cx="440.84" cy="795.42" r="1.95"/><circle cx="441.34" cy="796.09" r="1.95"/><circle cx="441.85" cy="796.76" r="1.95"/><circle cx="442.35" cy="797.44" r="1.95"/><circle cx="442.86" cy="798.11" r="1.95"/><circle cx="443.36" cy="798.78" r="1.95"/><circle cx="443.87" cy="799.46" r="1.95"/><circle cx="444.37" cy="800.13" r="1.95"/><circle cx="444.88" cy="800.8" r="1.95"/><circle cx="445.38" cy="801.48" r="1.95"/><circle cx="445.89" cy="802.15" r="1.95"/><circle cx="446.39" cy="802.82" r="1.95"/><circle cx="446.9" cy="803.5" r="1.95"/><circle cx="447.4" cy="804.17" r="1.95"/><circle cx="447.91" cy="804.84" r="1.95"/><circle cx="448.41" cy="805.3" r="1.95"/><circle cx="448.92" cy="805.66" r="1.95"/><circle cx="449.42" cy="806.02" r="1.95"/><circle cx="449.93" cy="806.38" r="1.95"/><circle cx="450.43" cy="806.74" r="1.95"/><circle cx="450.94" cy="807.1" r="1.95"/><circle cx="451.44" cy="807.46" r="1.95"/><circle cx="451.95" cy="807.81" r="1.95"/></g>
<path d="M267.8 812.4H453.2V826.4H267.8ZM421.3 812.4V826.4" stroke="#111" stroke-width="0.9" fill="none"/>
<text x="344.55" y="823" font-size="8.8" text-anchor="middle" fill="#1a1a1a">Inf.</text>
<text x="437.25" y="823" font-size="8.8" text-anchor="middle" fill="#1a1a1a">Uninf.</text>
<path d="M499.2 620.3V812.4" stroke="#111" stroke-width="1" fill="none"/>
<path d="M495.7 812.4H499.2M495.7 793.19H499.2M495.7 773.98H499.2M495.7 754.77H499.2M495.7 735.56H499.2M495.7 716.35H499.2M495.7 697.14H499.2M495.7 677.93H499.2M495.7 658.72H499.2M495.7 639.51H499.2M495.7 620.3H499.2" stroke="#111" stroke-width="0.8" fill="none"/>
<g font-size="8.4" text-anchor="end" fill="#1a1a1a"><text x="492.2" y="815.3">0</text><text x="492.2" y="796.09">10</text><text x="492.2" y="776.88">20</text><text x="492.2" y="757.67">30</text><text x="492.2" y="738.46">40</text><text x="492.2" y="719.25">50</text><text x="492.2" y="700.04">60</text><text x="492.2" y="680.83">70</text><text x="492.2" y="661.62">80</text><text x="492.2" y="642.41">90</text><text x="492.2" y="623.2">100</text></g>
<text x="473.6" y="716.35" font-size="8.9" text-anchor="middle" fill="#1a1a1a" transform="rotate(-90 473.6 716.35)">Cumulated Relative Abundance (Tanzania)</text>
<text class="b" x="507.8" y="625.3" font-size="7.3" fill="#111">Comparison (Inf. vs Uninf.)</text>
<text class="b" x="615.6" y="625.3" font-size="7.65" fill="#111">Tanzania (<tspan class="it">P</tspan><tspan style="font-style:italic;font-weight:normal" font-size="6" dx="0.6" dy="1.4" fill="#333">corr</tspan><tspan dy="-1.4">)</tspan></text>
<path d="M505.6 628.1H680.5" stroke="#777" stroke-width="1"/>
<text x="507.8" y="635.6" font-size="7.2" fill="#1a1a1a">Non-overlapping species</text>
<text x="507.8" y="646" font-size="7.2" fill="#1a1a1a">Overlapping species</text>
<text x="643.8" y="635.6" font-size="7.2" text-anchor="middle" fill="#1a1a1a">0.2164</text>
<text class="b" x="643.8" y="646" font-size="7.2" text-anchor="middle" fill="#111">0.0062</text>
<path d="M500.08 800.33l2.25 3.94h-4.5zM500.65 800.04l2.25 3.94h-4.5zM501.21 796.32l2.25 3.94h-4.5zM501.77 795.39l2.25 3.94h-4.5zM502.34 795.73l2.25 3.94h-4.5zM502.9 805.11l2.25 3.94h-4.5zM503.46 800.7l2.25 3.94h-4.5zM504.03 797.16l2.25 3.94h-4.5zM504.59 799.61l2.25 3.94h-4.5zM505.15 795.19l2.25 3.94h-4.5zM505.72 796.42l2.25 3.94h-4.5zM506.28 804.93l2.25 3.94h-4.5zM506.84 809.59l2.25 3.94h-4.5zM507.41 803.86l2.25 3.94h-4.5zM507.97 809.2l2.25 3.94h-4.5zM508.53 801.41l2.25 3.94h-4.5zM509.1 807.92l2.25 3.94h-4.5zM509.66 805.61l2.25 3.94h-4.5zM510.22 800.02l2.25 3.94h-4.5zM510.79 804.39l2.25 3.94h-4.5zM511.35 805.13l2.25 3.94h-4.5zM511.91 804.08l2.25 3.94h-4.5zM512.48 785.32l2.25 3.94h-4.5zM513.04 805.02l2.25 3.94h-4.5zM513.6 807.27l2.25 3.94h-4.5zM514.17 809.19l2.25 3.94h-4.5zM514.73 798.9l2.25 3.94h-4.5zM515.3 802.19l2.25 3.94h-4.5zM515.86 790.37l2.25 3.94h-4.5zM516.42 809.38l2.25 3.94h-4.5zM516.99 802.3l2.25 3.94h-4.5zM517.55 800.49l2.25 3.94h-4.5zM518.11 798.43l2.25 3.94h-4.5zM518.68 797.42l2.25 3.94h-4.5zM519.24 786.84l2.25 3.94h-4.5zM519.8 802.12l2.25 3.94h-4.5zM520.37 799.02l2.25 3.94h-4.5zM520.93 805.69l2.25 3.94h-4.5zM521.49 806.75l2.25 3.94h-4.5zM522.06 807.65l2.25 3.94h-4.5zM522.62 799.27l2.25 3.94h-4.5zM523.18 809.59l2.25 3.94h-4.5zM523.75 796.13l2.25 3.94h-4.5zM524.31 782.8l2.25 3.94h-4.5zM524.87 806.31l2.25 3.94h-4.5zM525.44 797.86l2.25 3.94h-4.5zM526 809.93l2.25 3.94h-4.5zM526.56 790.98l2.25 3.94h-4.5zM527.13 805.68l2.25 3.94h-4.5zM527.69 804.67l2.25 3.94h-4.5zM528.25 806.7l2.25 3.94h-4.5zM528.82 807.79l2.25 3.94h-4.5zM529.38 807.76l2.25 3.94h-4.5zM529.95 802.88l2.25 3.94h-4.5zM530.51 809.34l2.25 3.94h-4.5zM531.07 804.34l2.25 3.94h-4.5zM531.64 786.31l2.25 3.94h-4.5zM532.2 805.51l2.25 3.94h-4.5zM532.76 809.06l2.25 3.94h-4.5zM533.33 805.3l2.25 3.94h-4.5zM533.89 795.33l2.25 3.94h-4.5zM534.45 788.54l2.25 3.94h-4.5zM535.02 802.05l2.25 3.94h-4.5zM535.58 796.72l2.25 3.94h-4.5zM536.14 806.9l2.25 3.94h-4.5zM536.71 788.45l2.25 3.94h-4.5zM537.27 803.29l2.25 3.94h-4.5zM537.83 806.22l2.25 3.94h-4.5zM538.4 788.5l2.25 3.94h-4.5zM538.96 803.78l2.25 3.94h-4.5zM539.52 807.35l2.25 3.94h-4.5zM540.09 807.26l2.25 3.94h-4.5zM540.65 807.09l2.25 3.94h-4.5zM541.21 808.25l2.25 3.94h-4.5zM541.78 796.32l2.25 3.94h-4.5zM542.34 808.33l2.25 3.94h-4.5zM542.9 793.03l2.25 3.94h-4.5zM543.47 797.99l2.25 3.94h-4.5zM544.03 802.19l2.25 3.94h-4.5zM544.6 801.64l2.25 3.94h-4.5zM545.16 796.14l2.25 3.94h-4.5zM545.72 805.18l2.25 3.94h-4.5zM546.29 797.45l2.25 3.94h-4.5zM546.85 806.25l2.25 3.94h-4.5zM547.41 803.02l2.25 3.94h-4.5zM547.98 800.79l2.25 3.94h-4.5zM548.54 787.71l2.25 3.94h-4.5zM549.1 805.54l2.25 3.94h-4.5zM549.67 800.5l2.25 3.94h-4.5zM550.23 800.07l2.25 3.94h-4.5zM550.79 807.99l2.25 3.94h-4.5zM551.36 783.48l2.25 3.94h-4.5zM551.92 803.51l2.25 3.94h-4.5zM552.48 809.04l2.25 3.94h-4.5zM553.05 806.09l2.25 3.94h-4.5zM553.61 801.55l2.25 3.94h-4.5zM554.17 805.85l2.25 3.94h-4.5zM554.74 803.3l2.25 3.94h-4.5zM555.3 795.47l2.25 3.94h-4.5zM555.86 807.07l2.25 3.94h-4.5zM556.43 805.23l2.25 3.94h-4.5zM556.99 800.98l2.25 3.94h-4.5zM557.55 808.75l2.25 3.94h-4.5zM558.12 804.96l2.25 3.94h-4.5zM558.68 796.9l2.25 3.94h-4.5zM559.25 807.23l2.25 3.94h-4.5zM559.81 807.25l2.25 3.94h-4.5zM560.37 800.23l2.25 3.94h-4.5zM560.94 800.33l2.25 3.94h-4.5zM561.5 798.99l2.25 3.94h-4.5zM562.06 798.53l2.25 3.94h-4.5zM562.63 795.42l2.25 3.94h-4.5zM563.19 798.69l2.25 3.94h-4.5zM563.75 801.56l2.25 3.94h-4.5zM564.32 800.1l2.25 3.94h-4.5zM564.88 798.66l2.25 3.94h-4.5zM565.44 796.73l2.25 3.94h-4.5zM566.01 797.82l2.25 3.94h-4.5zM566.57 790.58l2.25 3.94h-4.5zM567.13 790.69l2.25 3.94h-4.5zM567.7 800.23l2.25 3.94h-4.5zM568.26 806.57l2.25 3.94h-4.5zM568.82 806.97l2.25 3.94h-4.5zM569.39 808.03l2.25 3.94h-4.5zM569.95 788.84l2.25 3.94h-4.5zM570.51 798.47l2.25 3.94h-4.5zM571.08 804.37l2.25 3.94h-4.5zM571.64 809.66l2.25 3.94h-4.5zM572.2 799.98l2.25 3.94h-4.5zM572.77 795.03l2.25 3.94h-4.5zM573.33 798.1l2.25 3.94h-4.5zM573.9 787.06l2.25 3.94h-4.5zM574.46 808.25l2.25 3.94h-4.5zM575.02 805.9l2.25 3.94h-4.5zM575.59 800.01l2.25 3.94h-4.5zM576.15 809.34l2.25 3.94h-4.5zM576.71 809.29l2.25 3.94h-4.5zM577.28 802.54l2.25 3.94h-4.5zM577.84 796.94l2.25 3.94h-4.5zM578.4 802.4l2.25 3.94h-4.5zM578.97 797.7l2.25 3.94h-4.5zM579.53 795.07l2.25 3.94h-4.5zM580.09 797.58l2.25 3.94h-4.5zM580.66 795.77l2.25 3.94h-4.5zM581.22 807.91l2.25 3.94h-4.5zM581.78 806.64l2.25 3.94h-4.5zM582.35 805.11l2.25 3.94h-4.5zM582.91 795.69l2.25 3.94h-4.5zM583.47 808.46l2.25 3.94h-4.5zM584.04 800.19l2.25 3.94h-4.5zM584.6 805.68l2.25 3.94h-4.5zM585.16 796.75l2.25 3.94h-4.5zM585.73 807.28l2.25 3.94h-4.5zM586.29 808.33l2.25 3.94h-4.5zM586.85 806.94l2.25 3.94h-4.5zM587.42 804.86l2.25 3.94h-4.5zM587.98 809.58l2.25 3.94h-4.5zM588.55 790.08l2.25 3.94h-4.5zM589.11 798.24l2.25 3.94h-4.5zM589.67 785.91l2.25 3.94h-4.5zM590.24 809.77l2.25 3.94h-4.5zM590.8 802.03l2.25 3.94h-4.5zM591.36 803.32l2.25 3.94h-4.5zM591.93 798.24l2.25 3.94h-4.5zM592.49 795.04l2.25 3.94h-4.5zM593.05 795.04l2.25 3.94h-4.5zM593.62 809.25l2.25 3.94h-4.5zM594.18 798.68l2.25 3.94h-4.5zM594.74 797.73l2.25 3.94h-4.5zM595.31 804.81l2.25 3.94h-4.5zM595.87 795.05l2.25 3.94h-4.5zM596.43 800.54l2.25 3.94h-4.5zM597 790.9l2.25 3.94h-4.5zM597.56 785.57l2.25 3.94h-4.5zM598.12 798.25l2.25 3.94h-4.5zM598.69 803.14l2.25 3.94h-4.5zM599.25 804.24l2.25 3.94h-4.5zM599.81 799.7l2.25 3.94h-4.5zM600.38 801.1l2.25 3.94h-4.5zM600.94 810.17l2.25 3.94h-4.5zM601.5 802.86l2.25 3.94h-4.5zM602.07 781.57l2.25 3.94h-4.5zM602.63 809.51l2.25 3.94h-4.5zM603.2 805.8l2.25 3.94h-4.5zM603.76 796.13l2.25 3.94h-4.5zM604.32 795.61l2.25 3.94h-4.5zM604.89 807.89l2.25 3.94h-4.5zM605.45 799.41l2.25 3.94h-4.5zM606.01 808.32l2.25 3.94h-4.5zM606.58 799.87l2.25 3.94h-4.5zM607.14 797.94l2.25 3.94h-4.5zM607.7 783.57l2.25 3.94h-4.5zM608.27 798.24l2.25 3.94h-4.5zM608.83 798.44l2.25 3.94h-4.5zM609.39 798.5l2.25 3.94h-4.5zM609.96 795.76l2.25 3.94h-4.5zM610.52 798.06l2.25 3.94h-4.5zM611.08 804.72l2.25 3.94h-4.5zM611.65 803.58l2.25 3.94h-4.5zM612.21 801.53l2.25 3.94h-4.5zM612.77 794.1l2.25 3.94h-4.5zM613.34 805.49l2.25 3.94h-4.5zM613.9 803.91l2.25 3.94h-4.5zM614.46 800.88l2.25 3.94h-4.5zM615.03 802.8l2.25 3.94h-4.5zM615.59 807l2.25 3.94h-4.5zM616.15 807.9l2.25 3.94h-4.5zM616.72 800.32l2.25 3.94h-4.5zM617.28 792.71l2.25 3.94h-4.5zM617.85 797.92l2.25 3.94h-4.5zM618.41 805.23l2.25 3.94h-4.5zM618.97 799.12l2.25 3.94h-4.5zM619.54 809.64l2.25 3.94h-4.5zM620.1 798.56l2.25 3.94h-4.5zM620.66 810.18l2.25 3.94h-4.5zM621.23 808.6l2.25 3.94h-4.5zM621.79 796.99l2.25 3.94h-4.5zM622.35 809.43l2.25 3.94h-4.5zM622.92 803.04l2.25 3.94h-4.5zM623.48 796.21l2.25 3.94h-4.5zM624.04 803.25l2.25 3.94h-4.5zM624.61 797.07l2.25 3.94h-4.5zM625.17 783.91l2.25 3.94h-4.5zM625.73 799.37l2.25 3.94h-4.5zM626.3 807.55l2.25 3.94h-4.5zM626.86 798.92l2.25 3.94h-4.5zM627.42 807.48l2.25 3.94h-4.5zM627.99 805.36l2.25 3.94h-4.5zM628.55 798.89l2.25 3.94h-4.5zM629.11 795.9l2.25 3.94h-4.5zM629.68 798.71l2.25 3.94h-4.5zM630.24 805.05l2.25 3.94h-4.5zM630.8 789.47l2.25 3.94h-4.5zM631.37 783.28l2.25 3.94h-4.5zM631.93 806.67l2.25 3.94h-4.5zM632.5 801.21l2.25 3.94h-4.5zM633.06 796.36l2.25 3.94h-4.5zM633.62 801.75l2.25 3.94h-4.5zM634.19 796.72l2.25 3.94h-4.5zM634.75 805.84l2.25 3.94h-4.5zM635.31 797.46l2.25 3.94h-4.5zM635.88 790.11l2.25 3.94h-4.5zM636.44 808.08l2.25 3.94h-4.5zM637 795.76l2.25 3.94h-4.5zM637.57 797.73l2.25 3.94h-4.5zM638.13 802.95l2.25 3.94h-4.5zM638.69 808.09l2.25 3.94h-4.5zM639.26 807.18l2.25 3.94h-4.5zM639.82 795.64l2.25 3.94h-4.5zM640.38 809.61l2.25 3.94h-4.5zM640.95 802.29l2.25 3.94h-4.5zM641.51 800.59l2.25 3.94h-4.5zM642.07 801.72l2.25 3.94h-4.5zM642.64 803.53l2.25 3.94h-4.5zM643.2 802.14l2.25 3.94h-4.5zM643.76 802.06l2.25 3.94h-4.5zM644.33 799.23l2.25 3.94h-4.5zM644.89 803.71l2.25 3.94h-4.5zM645.45 793.97l2.25 3.94h-4.5zM646.02 797.44l2.25 3.94h-4.5zM648.14 803.31l2.25 3.94h-4.5zM648.61 808.15l2.25 3.94h-4.5zM649.09 801.35l2.25 3.94h-4.5zM649.56 806.64l2.25 3.94h-4.5zM650.04 809.38l2.25 3.94h-4.5zM650.51 809.66l2.25 3.94h-4.5zM650.99 805.63l2.25 3.94h-4.5zM651.46 805.24l2.25 3.94h-4.5zM651.93 803.19l2.25 3.94h-4.5zM652.41 804.38l2.25 3.94h-4.5zM652.88 803.59l2.25 3.94h-4.5zM653.36 802.14l2.25 3.94h-4.5zM653.83 807.51l2.25 3.94h-4.5zM654.31 800.16l2.25 3.94h-4.5zM654.78 801.7l2.25 3.94h-4.5zM655.26 800.02l2.25 3.94h-4.5zM655.73 802.97l2.25 3.94h-4.5zM656.21 803.25l2.25 3.94h-4.5zM656.68 799.72l2.25 3.94h-4.5zM657.16 801.83l2.25 3.94h-4.5zM657.63 806.52l2.25 3.94h-4.5zM658.11 799.38l2.25 3.94h-4.5zM658.58 807.4l2.25 3.94h-4.5zM659.05 806.41l2.25 3.94h-4.5zM659.53 799.84l2.25 3.94h-4.5zM660 804.28l2.25 3.94h-4.5zM660.48 807.87l2.25 3.94h-4.5zM660.95 798.98l2.25 3.94h-4.5zM661.43 802.58l2.25 3.94h-4.5zM661.9 809.46l2.25 3.94h-4.5zM662.38 805.58l2.25 3.94h-4.5zM662.85 805.59l2.25 3.94h-4.5zM663.33 806.36l2.25 3.94h-4.5zM663.8 801.09l2.25 3.94h-4.5zM664.28 806.96l2.25 3.94h-4.5zM664.75 808.69l2.25 3.94h-4.5zM665.23 799.45l2.25 3.94h-4.5zM665.7 802.84l2.25 3.94h-4.5zM666.17 804.01l2.25 3.94h-4.5zM666.65 799.14l2.25 3.94h-4.5zM667.12 801.56l2.25 3.94h-4.5zM667.6 799.54l2.25 3.94h-4.5zM668.07 805.7l2.25 3.94h-4.5zM668.55 806.07l2.25 3.94h-4.5zM669.02 805.73l2.25 3.94h-4.5zM669.5 804.09l2.25 3.94h-4.5zM669.97 802.81l2.25 3.94h-4.5zM670.45 807.32l2.25 3.94h-4.5zM670.92 802.94l2.25 3.94h-4.5zM671.4 798.5l2.25 3.94h-4.5zM671.87 800.76l2.25 3.94h-4.5zM672.35 809.63l2.25 3.94h-4.5zM672.82 804.02l2.25 3.94h-4.5zM673.29 802.18l2.25 3.94h-4.5zM673.77 809.04l2.25 3.94h-4.5zM674.24 797.88l2.25 3.94h-4.5zM674.72 800.31l2.25 3.94h-4.5zM675.19 803.03l2.25 3.94h-4.5zM675.67 803.53l2.25 3.94h-4.5zM676.14 802.1l2.25 3.94h-4.5zM676.62 804.98l2.25 3.94h-4.5zM677.09 802.82l2.25 3.94h-4.5zM677.57 803.65l2.25 3.94h-4.5zM678.04 805.56l2.25 3.94h-4.5zM678.52 804.09l2.25 3.94h-4.5zM678.99 808.98l2.25 3.94h-4.5zM679.47 802.41l2.25 3.94h-4.5zM679.94 806.86l2.25 3.94h-4.5zM680.41 806.52l2.25 3.94h-4.5zM680.89 807.87l2.25 3.94h-4.5zM681.36 800.75l2.25 3.94h-4.5zM681.84 804.27l2.25 3.94h-4.5zM682.31 802.77l2.25 3.94h-4.5zM682.79 803.6l2.25 3.94h-4.5zM683.26 802.69l2.25 3.94h-4.5zM682.27 742.45l2.25 3.94h-4.5zM674.46 782.98l2.25 3.94h-4.5zM653.25 785.87l2.25 3.94h-4.5zM619.16 763.39l2.25 3.94h-4.5zM530.3 780.87l2.25 3.94h-4.5zM561.4 782.22l2.25 3.94h-4.5zM592.5 780.87l2.25 3.94h-4.5z" fill="#404040"/>
<g fill="#e8383d"><circle cx="500.08" cy="682.73" r="1.95"/><circle cx="500.65" cy="767.45" r="1.95"/><circle cx="501.21" cy="769.96" r="1.95"/><circle cx="501.77" cy="771.26" r="1.95"/><circle cx="502.34" cy="772.98" r="1.95"/><circle cx="502.9" cy="774.7" r="1.95"/><circle cx="503.46" cy="776.41" r="1.95"/><circle cx="504.03" cy="778.13" r="1.95"/><circle cx="504.59" cy="779.84" r="1.95"/><circle cx="505.15" cy="781.56" r="1.95"/><circle cx="505.72" cy="783.28" r="1.95"/><circle cx="506.28" cy="784.18" r="1.95"/><circle cx="506.84" cy="784.76" r="1.95"/><circle cx="507.41" cy="785.33" r="1.95"/><circle cx="507.97" cy="785.9" r="1.95"/><circle cx="508.53" cy="786.47" r="1.95"/><circle cx="509.1" cy="786.75" r="1.95"/><circle cx="509.66" cy="786.95" r="1.95"/><circle cx="510.22" cy="787.15" r="1.95"/><circle cx="510.79" cy="787.35" r="1.95"/><circle cx="511.35" cy="787.55" r="1.95"/><circle cx="511.91" cy="787.75" r="1.95"/><circle cx="512.48" cy="787.95" r="1.95"/><circle cx="513.04" cy="788.15" r="1.95"/><circle cx="513.6" cy="788.35" r="1.95"/><circle cx="514.17" cy="788.55" r="1.95"/><circle cx="514.73" cy="788.78" r="1.95"/><circle cx="515.3" cy="789" r="1.95"/><circle cx="515.86" cy="789.23" r="1.95"/><circle cx="516.42" cy="789.46" r="1.95"/><circle cx="516.99" cy="789.69" r="1.95"/><circle cx="517.55" cy="789.92" r="1.95"/><circle cx="518.11" cy="790.15" r="1.95"/><circle cx="518.68" cy="790.38" r="1.95"/><circle cx="519.24" cy="790.61" r="1.95"/><circle cx="519.8" cy="790.82" r="1.95"/><circle cx="520.37" cy="790.97" r="1.95"/><circle cx="520.93" cy="791.13" r="1.95"/><circle cx="521.49" cy="791.28" r="1.95"/><circle cx="522.06" cy="791.43" r="1.95"/><circle cx="522.62" cy="791.58" r="1.95"/><circle cx="523.18" cy="791.74" r="1.95"/><circle cx="523.75" cy="791.89" r="1.95"/><circle cx="524.31" cy="792.04" r="1.95"/><circle cx="524.87" cy="792.19" r="1.95"/><circle cx="525.44" cy="792.35" r="1.95"/><circle cx="526" cy="792.5" r="1.95"/><circle cx="526.56" cy="792.65" r="1.95"/><circle cx="527.13" cy="792.8" r="1.95"/><circle cx="527.69" cy="792.96" r="1.95"/><circle cx="528.25" cy="793.1" r="1.95"/><circle cx="528.82" cy="793.23" r="1.95"/><circle cx="529.38" cy="793.36" r="1.95"/><circle cx="529.95" cy="793.48" r="1.95"/><circle cx="530.51" cy="793.61" r="1.95"/><circle cx="531.07" cy="793.74" r="1.95"/><circle cx="531.64" cy="793.87" r="1.95"/><circle cx="532.2" cy="794" r="1.95"/><circle cx="532.76" cy="794.13" r="1.95"/><circle cx="533.33" cy="794.26" r="1.95"/><circle cx="533.89" cy="794.38" r="1.95"/><circle cx="534.45" cy="794.51" r="1.95"/><circle cx="535.02" cy="794.64" r="1.95"/><circle cx="535.58" cy="794.77" r="1.95"/><circle cx="536.14" cy="794.9" r="1.95"/><circle cx="536.71" cy="795.03" r="1.95"/><circle cx="537.27" cy="795.16" r="1.95"/><circle cx="537.83" cy="795.29" r="1.95"/><circle cx="538.4" cy="795.41" r="1.95"/><circle cx="538.96" cy="795.54" r="1.95"/><circle cx="539.52" cy="795.66" r="1.95"/><circle cx="540.09" cy="795.77" r="1.95"/><circle cx="540.65" cy="795.89" r="1.95"/><circle cx="541.21" cy="796" r="1.95"/><circle cx="541.78" cy="796.12" r="1.95"/><circle cx="542.34" cy="796.23" r="1.95"/><circle cx="542.9" cy="796.35" r="1.95"/><circle cx="543.47" cy="796.46" r="1.95"/><circle cx="544.03" cy="796.58" r="1.95"/><circle cx="544.6" cy="796.69" r="1.95"/><circle cx="545.16" cy="796.8" r="1.95"/><circle cx="545.72" cy="796.92" r="1.95"/><circle cx="546.29" cy="797.03" r="1.95"/><circle cx="546.85" cy="797.15" r="1.95"/><circle cx="547.41" cy="797.26" r="1.95"/><circle cx="547.98" cy="797.38" r="1.95"/><circle cx="548.54" cy="797.49" r="1.95"/><circle cx="549.1" cy="797.6" r="1.95"/><circle cx="549.67" cy="797.72" r="1.95"/><circle cx="550.23" cy="797.83" r="1.95"/><circle cx="550.79" cy="797.92" r="1.95"/><circle cx="551.36" cy="798.01" r="1.95"/><circle cx="551.92" cy="798.1" r="1.95"/><circle cx="552.48" cy="798.19" r="1.95"/><circle cx="553.05" cy="798.29" r="1.95"/><circle cx="553.61" cy="798.38" r="1.95"/><circle cx="554.17" cy="798.47" r="1.95"/><circle cx="554.74" cy="798.56" r="1.95"/><circle cx="555.3" cy="798.65" r="1.95"/><circle cx="555.86" cy="798.74" r="1.95"/><circle cx="556.43" cy="798.84" r="1.95"/><circle cx="556.99" cy="798.93" r="1.95"/><circle cx="557.55" cy="799.02" r="1.95"/><circle cx="558.12" cy="799.11" r="1.95"/><circle cx="558.68" cy="799.2" r="1.95"/><circle cx="559.25" cy="799.29" r="1.95"/><circle cx="559.81" cy="799.38" r="1.95"/><circle cx="560.37" cy="799.48" r="1.95"/><circle cx="560.94" cy="799.57" r="1.95"/><circle cx="561.5" cy="799.66" r="1.95"/><circle cx="562.06" cy="799.75" r="1.95"/><circle cx="562.63" cy="799.84" r="1.95"/><circle cx="563.19" cy="799.93" r="1.95"/><circle cx="563.75" cy="800.03" r="1.95"/><circle cx="564.32" cy="800.11" r="1.95"/><circle cx="564.88" cy="800.19" r="1.95"/><circle cx="565.44" cy="800.27" r="1.95"/><circle cx="566.01" cy="800.35" r="1.95"/><circle cx="566.57" cy="800.43" r="1.95"/><circle cx="567.13" cy="800.51" r="1.95"/><circle cx="567.7" cy="800.59" r="1.95"/><circle cx="568.26" cy="800.67" r="1.95"/><circle cx="568.82" cy="800.75" r="1.95"/><circle cx="569.39" cy="800.83" r="1.95"/><circle cx="569.95" cy="800.91" r="1.95"/><circle cx="570.51" cy="800.99" r="1.95"/><circle cx="571.08" cy="801.07" r="1.95"/><circle cx="571.64" cy="801.15" r="1.95"/><circle cx="572.2" cy="801.23" r="1.95"/><circle cx="572.77" cy="801.31" r="1.95"/><circle cx="573.33" cy="801.39" r="1.95"/><circle cx="573.9" cy="801.47" r="1.95"/><circle cx="574.46" cy="801.55" r="1.95"/><circle cx="575.02" cy="801.63" r="1.95"/><circle cx="575.59" cy="801.71" r="1.95"/><circle cx="576.15" cy="801.79" r="1.95"/><circle cx="576.71" cy="801.87" r="1.95"/><circle cx="577.28" cy="801.95" r="1.95"/><circle cx="577.84" cy="802.03" r="1.95"/><circle cx="578.4" cy="802.11" r="1.95"/><circle cx="578.97" cy="802.19" r="1.95"/><circle cx="579.53" cy="802.27" r="1.95"/><circle cx="580.09" cy="802.35" r="1.95"/><circle cx="580.66" cy="802.43" r="1.95"/><circle cx="581.22" cy="802.51" r="1.95"/><circle cx="581.78" cy="802.59" r="1.95"/><circle cx="582.35" cy="802.67" r="1.95"/><circle cx="582.91" cy="802.75" r="1.95"/><circle cx="583.47" cy="802.83" r="1.95"/><circle cx="584.04" cy="802.91" r="1.95"/><circle cx="584.6" cy="802.99" r="1.95"/><circle cx="585.16" cy="803.07" r="1.95"/><circle cx="585.73" cy="803.15" r="1.95"/><circle cx="586.29" cy="803.23" r="1.95"/><circle cx="586.85" cy="803.31" r="1.95"/><circle cx="587.42" cy="803.39" r="1.95"/><circle cx="587.98" cy="803.47" r="1.95"/><circle cx="588.55" cy="803.55" r="1.95"/><circle cx="589.11" cy="803.63" r="1.95"/><circle cx="589.67" cy="803.71" r="1.95"/><circle cx="590.24" cy="803.79" r="1.95"/><circle cx="590.8" cy="803.87" r="1.95"/><circle cx="591.36" cy="803.95" r="1.95"/><circle cx="591.93" cy="804.03" r="1.95"/><circle cx="592.49" cy="804.09" r="1.95"/><circle cx="593.05" cy="804.16" r="1.95"/><circle cx="593.62" cy="804.23" r="1.95"/><circle cx="594.18" cy="804.3" r="1.95"/><circle cx="594.74" cy="804.37" r="1.95"/><circle cx="595.31" cy="804.44" r="1.95"/><circle cx="595.87" cy="804.51" r="1.95"/><circle cx="596.43" cy="804.57" r="1.95"/><circle cx="597" cy="804.64" r="1.95"/><circle cx="597.56" cy="804.71" r="1.95"/><circle cx="598.12" cy="804.78" r="1.95"/><circle cx="598.69" cy="804.85" r="1.95"/><circle cx="599.25" cy="804.92" r="1.95"/><circle cx="599.81" cy="804.99" r="1.95"/><circle cx="600.38" cy="805.05" r="1.95"/><circle cx="600.94" cy="805.12" r="1.95"/><circle cx="601.5" cy="805.19" r="1.95"/><circle cx="602.07" cy="805.26" r="1.95"/><circle cx="602.63" cy="805.33" r="1.95"/><circle cx="603.2" cy="805.4" r="1.95"/><circle cx="603.76" cy="805.47" r="1.95"/><circle cx="604.32" cy="805.54" r="1.95"/><circle cx="604.89" cy="805.6" r="1.95"/><circle cx="605.45" cy="805.67" r="1.95"/><circle cx="606.01" cy="805.75" r="1.95"/><circle cx="606.58" cy="805.83" r="1.95"/><circle cx="607.14" cy="805.91" r="1.95"/><circle cx="607.7" cy="805.99" r="1.95"/><circle cx="608.27" cy="806.07" r="1.95"/><circle cx="608.83" cy="806.15" r="1.95"/><circle cx="609.39" cy="806.23" r="1.95"/><circle cx="609.96" cy="806.31" r="1.95"/><circle cx="610.52" cy="806.39" r="1.95"/><circle cx="611.08" cy="806.47" r="1.95"/><circle cx="611.65" cy="806.55" r="1.95"/><circle cx="612.21" cy="806.63" r="1.95"/><circle cx="612.77" cy="806.71" r="1.95"/><circle cx="613.34" cy="806.79" r="1.95"/><circle cx="613.9" cy="806.88" r="1.95"/><circle cx="614.46" cy="806.96" r="1.95"/><circle cx="615.03" cy="807.04" r="1.95"/><circle cx="615.59" cy="807.12" r="1.95"/><circle cx="616.15" cy="807.2" r="1.95"/><circle cx="616.72" cy="807.28" r="1.95"/><circle cx="617.28" cy="807.36" r="1.95"/><circle cx="617.85" cy="807.44" r="1.95"/><circle cx="618.41" cy="807.52" r="1.95"/><circle cx="618.97" cy="807.6" r="1.95"/><circle cx="619.54" cy="807.68" r="1.95"/><circle cx="620.1" cy="807.76" r="1.95"/><circle cx="620.66" cy="807.84" r="1.95"/><circle cx="621.23" cy="807.92" r="1.95"/><circle cx="621.79" cy="808" r="1.95"/><circle cx="622.35" cy="808.08" r="1.95"/><circle cx="622.92" cy="808.16" r="1.95"/><circle cx="623.48" cy="808.24" r="1.95"/><circle cx="624.04" cy="808.32" r="1.95"/><circle cx="624.61" cy="808.4" r="1.95"/><circle cx="625.17" cy="808.48" r="1.95"/><circle cx="625.73" cy="808.56" r="1.95"/><circle cx="626.3" cy="808.64" r="1.95"/><circle cx="626.86" cy="808.72" r="1.95"/><circle cx="627.42" cy="808.8" r="1.95"/><circle cx="627.99" cy="808.88" r="1.95"/><circle cx="628.55" cy="808.96" r="1.95"/><circle cx="629.11" cy="809.04" r="1.95"/><circle cx="629.68" cy="809.12" r="1.95"/><circle cx="630.24" cy="809.2" r="1.95"/><circle cx="630.8" cy="809.28" r="1.95"/><circle cx="631.37" cy="809.36" r="1.95"/><circle cx="631.93" cy="809.44" r="1.95"/><circle cx="632.5" cy="809.52" r="1.95"/><circle cx="633.06" cy="809.6" r="1.95"/><circle cx="633.62" cy="809.69" r="1.95"/><circle cx="634.19" cy="809.79" r="1.95"/><circle cx="634.75" cy="809.88" r="1.95"/><circle cx="635.31" cy="809.98" r="1.95"/><circle cx="635.88" cy="810.08" r="1.95"/><circle cx="636.44" cy="810.17" r="1.95"/><circle cx="637" cy="810.27" r="1.95"/><circle cx="637.57" cy="810.36" r="1.95"/><circle cx="638.13" cy="810.46" r="1.95"/><circle cx="638.69" cy="810.55" r="1.95"/><circle cx="639.26" cy="810.65" r="1.95"/><circle cx="639.82" cy="810.74" r="1.95"/><circle cx="640.38" cy="810.84" r="1.95"/><circle cx="640.95" cy="810.93" r="1.95"/><circle cx="641.51" cy="811.03" r="1.95"/><circle cx="642.07" cy="811.12" r="1.95"/><circle cx="642.64" cy="811.22" r="1.95"/><circle cx="643.2" cy="811.31" r="1.95"/><circle cx="643.76" cy="811.41" r="1.95"/><circle cx="644.33" cy="811.51" r="1.95"/><circle cx="644.89" cy="811.6" r="1.95"/><circle cx="645.45" cy="811.7" r="1.95"/><circle cx="646.02" cy="811.79" r="1.95"/><circle cx="648.14" cy="761.33" r="1.95"/><circle cx="648.61" cy="774.52" r="1.95"/><circle cx="649.09" cy="784.9" r="1.95"/><circle cx="649.56" cy="791.32" r="1.95"/><circle cx="650.04" cy="794.48" r="1.95"/><circle cx="650.51" cy="797.63" r="1.95"/><circle cx="650.99" cy="798.76" r="1.95"/><circle cx="651.46" cy="799.77" r="1.95"/><circle cx="651.93" cy="800.78" r="1.95"/><circle cx="652.41" cy="801.79" r="1.95"/><circle cx="652.88" cy="802.8" r="1.95"/><circle cx="653.36" cy="803.52" r="1.95"/><circle cx="653.83" cy="803.77" r="1.95"/><circle cx="654.31" cy="804.02" r="1.95"/><circle cx="654.78" cy="804.28" r="1.95"/><circle cx="655.26" cy="804.53" r="1.95"/><circle cx="655.73" cy="804.78" r="1.95"/><circle cx="656.21" cy="805.03" r="1.95"/><circle cx="656.68" cy="805.29" r="1.95"/><circle cx="657.16" cy="805.54" r="1.95"/><circle cx="657.63" cy="805.79" r="1.95"/><circle cx="658.11" cy="806.04" r="1.95"/><circle cx="658.58" cy="806.3" r="1.95"/><circle cx="659.05" cy="806.55" r="1.95"/><circle cx="659.53" cy="806.8" r="1.95"/><circle cx="660" cy="807.05" r="1.95"/><circle cx="660.48" cy="807.31" r="1.95"/><circle cx="660.95" cy="807.56" r="1.95"/><circle cx="661.43" cy="807.7" r="1.95"/><circle cx="661.9" cy="807.8" r="1.95"/><circle cx="662.38" cy="807.89" r="1.95"/><circle cx="662.85" cy="807.99" r="1.95"/><circle cx="663.33" cy="808.08" r="1.95"/><circle cx="663.8" cy="808.18" r="1.95"/><circle cx="664.28" cy="808.28" r="1.95"/><circle cx="664.75" cy="808.37" r="1.95"/><circle cx="665.23" cy="808.47" r="1.95"/><circle cx="665.7" cy="808.57" r="1.95"/><circle cx="666.17" cy="808.66" r="1.95"/><circle cx="666.65" cy="808.76" r="1.95"/><circle cx="667.12" cy="808.85" r="1.95"/><circle cx="667.6" cy="808.95" r="1.95"/><circle cx="668.07" cy="809.05" r="1.95"/><circle cx="668.55" cy="809.14" r="1.95"/><circle cx="669.02" cy="809.24" r="1.95"/><circle cx="669.5" cy="809.33" r="1.95"/><circle cx="669.97" cy="809.43" r="1.95"/><circle cx="670.45" cy="809.53" r="1.95"/><circle cx="670.92" cy="809.62" r="1.95"/><circle cx="671.4" cy="809.72" r="1.95"/><circle cx="671.87" cy="809.82" r="1.95"/><circle cx="672.35" cy="809.91" r="1.95"/><circle cx="672.82" cy="809.99" r="1.95"/><circle cx="673.29" cy="810.07" r="1.95"/><circle cx="673.77" cy="810.15" r="1.95"/><circle cx="674.24" cy="810.24" r="1.95"/><circle cx="674.72" cy="810.32" r="1.95"/><circle cx="675.19" cy="810.4" r="1.95"/><circle cx="675.67" cy="810.48" r="1.95"/><circle cx="676.14" cy="810.56" r="1.95"/><circle cx="676.62" cy="810.65" r="1.95"/><circle cx="677.09" cy="810.73" r="1.95"/><circle cx="677.57" cy="810.81" r="1.95"/><circle cx="678.04" cy="810.89" r="1.95"/><circle cx="678.52" cy="810.98" r="1.95"/><circle cx="678.99" cy="811.06" r="1.95"/><circle cx="679.47" cy="811.14" r="1.95"/><circle cx="679.94" cy="811.22" r="1.95"/><circle cx="680.41" cy="811.3" r="1.95"/><circle cx="680.89" cy="811.39" r="1.95"/><circle cx="681.36" cy="811.47" r="1.95"/><circle cx="681.84" cy="811.55" r="1.95"/><circle cx="682.31" cy="811.63" r="1.95"/><circle cx="682.79" cy="811.72" r="1.95"/><circle cx="683.26" cy="811.8" r="1.95"/></g>
<path d="M499.2 812.4H684.5V826.4H499.2ZM647.3 812.4V826.4" stroke="#111" stroke-width="0.9" fill="none"/>
<text x="573.25" y="823" font-size="8.8" text-anchor="middle" fill="#1a1a1a">Inf.</text>
<text x="665.9" y="823" font-size="8.8" text-anchor="middle" fill="#1a1a1a">Uninf.</text>
<path d="M9.2 836.4l1.9 3.32h-3.8z" fill="#404040"/>
<text x="21" y="840.9" font-size="7.9" fill="#1a1a1a">Cumulated relative abundance of species found to be enriched/depleted in one country</text>
<circle cx="335" cy="838.3" r="1.7" fill="#e8383d"/>
<text x="346.1" y="840.9" font-size="7.9" fill="#1a1a1a">Cumulated relative abundance of species found to be enriched/depleted in at least two countries</text>
</svg></body></html>
